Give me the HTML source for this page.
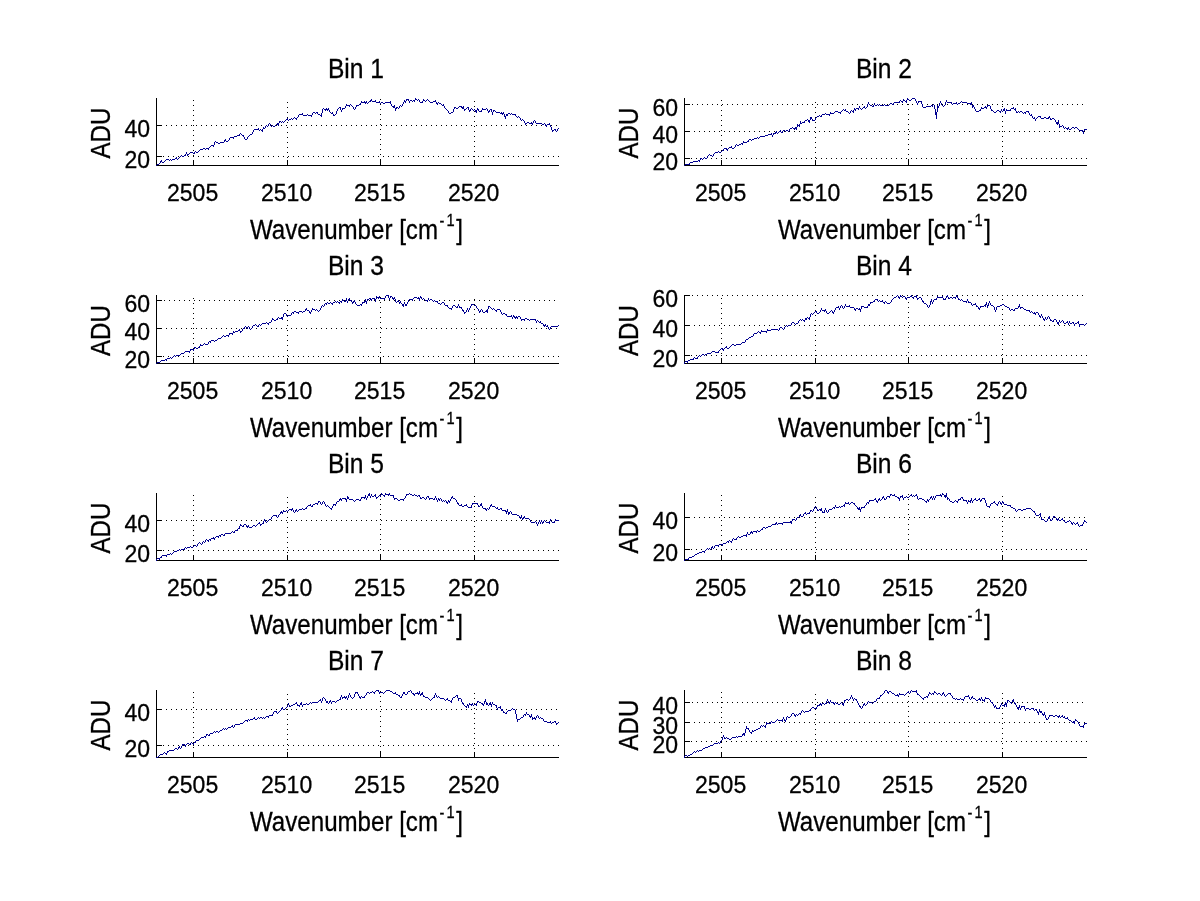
<!DOCTYPE html>
<html><head><meta charset="utf-8"><title>Bins</title>
<style>html,body{margin:0;padding:0;background:#fff}svg{display:block}text{font-family:"Liberation Sans",sans-serif;fill:#000;stroke:#000;stroke-width:0.3px}</style></head><body>
<svg width="1200" height="901" viewBox="0 0 1200 901">
<rect width="1200" height="901" fill="#fff"/>
<g shape-rendering="crispEdges" fill="#000">
<path d="M193 160h1v1h-1zM193 155h1v1h-1zM193 150h1v1h-1zM193 145h1v1h-1zM193 140h1v1h-1zM193 135h1v1h-1zM193 130h1v1h-1zM193 125h1v1h-1zM193 120h1v1h-1zM193 115h1v1h-1zM193 110h1v1h-1zM193 105h1v1h-1zM193 100h1v1h-1zM287 162h1v1h-1zM287 157h1v1h-1zM287 152h1v1h-1zM287 147h1v1h-1zM287 142h1v1h-1zM287 137h1v1h-1zM287 132h1v1h-1zM287 127h1v1h-1zM287 122h1v1h-1zM287 117h1v1h-1zM287 112h1v1h-1zM287 107h1v1h-1zM287 102h1v1h-1zM380 164h1v1h-1zM380 159h1v1h-1zM380 154h1v1h-1zM380 149h1v1h-1zM380 144h1v1h-1zM380 139h1v1h-1zM380 134h1v1h-1zM380 129h1v1h-1zM380 124h1v1h-1zM380 119h1v1h-1zM380 114h1v1h-1zM380 109h1v1h-1zM380 104h1v1h-1zM380 99h1v1h-1zM474 161h1v1h-1zM474 156h1v1h-1zM474 151h1v1h-1zM474 146h1v1h-1zM474 141h1v1h-1zM474 136h1v1h-1zM474 131h1v1h-1zM474 126h1v1h-1zM474 121h1v1h-1zM474 116h1v1h-1zM474 111h1v1h-1zM474 106h1v1h-1zM474 101h1v1h-1zM158 156h1v1h-1zM163 156h1v1h-1zM168 156h1v1h-1zM173 156h1v1h-1zM178 156h1v1h-1zM183 156h1v1h-1zM188 156h1v1h-1zM193 156h1v1h-1zM198 156h1v1h-1zM203 156h1v1h-1zM208 156h1v1h-1zM213 156h1v1h-1zM218 156h1v1h-1zM223 156h1v1h-1zM228 156h1v1h-1zM233 156h1v1h-1zM238 156h1v1h-1zM243 156h1v1h-1zM248 156h1v1h-1zM253 156h1v1h-1zM258 156h1v1h-1zM263 156h1v1h-1zM268 156h1v1h-1zM273 156h1v1h-1zM278 156h1v1h-1zM283 156h1v1h-1zM288 156h1v1h-1zM293 156h1v1h-1zM298 156h1v1h-1zM303 156h1v1h-1zM308 156h1v1h-1zM313 156h1v1h-1zM318 156h1v1h-1zM323 156h1v1h-1zM328 156h1v1h-1zM333 156h1v1h-1zM338 156h1v1h-1zM343 156h1v1h-1zM348 156h1v1h-1zM353 156h1v1h-1zM358 156h1v1h-1zM363 156h1v1h-1zM368 156h1v1h-1zM373 156h1v1h-1zM378 156h1v1h-1zM383 156h1v1h-1zM388 156h1v1h-1zM393 156h1v1h-1zM398 156h1v1h-1zM403 156h1v1h-1zM408 156h1v1h-1zM413 156h1v1h-1zM418 156h1v1h-1zM423 156h1v1h-1zM428 156h1v1h-1zM433 156h1v1h-1zM438 156h1v1h-1zM443 156h1v1h-1zM448 156h1v1h-1zM453 156h1v1h-1zM458 156h1v1h-1zM463 156h1v1h-1zM468 156h1v1h-1zM473 156h1v1h-1zM478 156h1v1h-1zM483 156h1v1h-1zM488 156h1v1h-1zM493 156h1v1h-1zM498 156h1v1h-1zM503 156h1v1h-1zM508 156h1v1h-1zM513 156h1v1h-1zM518 156h1v1h-1zM523 156h1v1h-1zM528 156h1v1h-1zM533 156h1v1h-1zM538 156h1v1h-1zM543 156h1v1h-1zM548 156h1v1h-1zM553 156h1v1h-1zM558 156h1v1h-1zM161 125h1v1h-1zM166 125h1v1h-1zM171 125h1v1h-1zM176 125h1v1h-1zM181 125h1v1h-1zM186 125h1v1h-1zM191 125h1v1h-1zM196 125h1v1h-1zM201 125h1v1h-1zM206 125h1v1h-1zM211 125h1v1h-1zM216 125h1v1h-1zM221 125h1v1h-1zM226 125h1v1h-1zM231 125h1v1h-1zM236 125h1v1h-1zM241 125h1v1h-1zM246 125h1v1h-1zM251 125h1v1h-1zM256 125h1v1h-1zM261 125h1v1h-1zM266 125h1v1h-1zM271 125h1v1h-1zM276 125h1v1h-1zM281 125h1v1h-1zM286 125h1v1h-1zM291 125h1v1h-1zM296 125h1v1h-1zM301 125h1v1h-1zM306 125h1v1h-1zM311 125h1v1h-1zM316 125h1v1h-1zM321 125h1v1h-1zM326 125h1v1h-1zM331 125h1v1h-1zM336 125h1v1h-1zM341 125h1v1h-1zM346 125h1v1h-1zM351 125h1v1h-1zM356 125h1v1h-1zM361 125h1v1h-1zM366 125h1v1h-1zM371 125h1v1h-1zM376 125h1v1h-1zM381 125h1v1h-1zM386 125h1v1h-1zM391 125h1v1h-1zM396 125h1v1h-1zM401 125h1v1h-1zM406 125h1v1h-1zM411 125h1v1h-1zM416 125h1v1h-1zM421 125h1v1h-1zM426 125h1v1h-1zM431 125h1v1h-1zM436 125h1v1h-1zM441 125h1v1h-1zM446 125h1v1h-1zM451 125h1v1h-1zM456 125h1v1h-1zM461 125h1v1h-1zM466 125h1v1h-1zM471 125h1v1h-1zM476 125h1v1h-1zM481 125h1v1h-1zM486 125h1v1h-1zM491 125h1v1h-1zM496 125h1v1h-1zM501 125h1v1h-1zM506 125h1v1h-1zM511 125h1v1h-1zM516 125h1v1h-1zM521 125h1v1h-1zM526 125h1v1h-1zM531 125h1v1h-1zM536 125h1v1h-1zM541 125h1v1h-1zM546 125h1v1h-1zM551 125h1v1h-1zM556 125h1v1h-1z"/>
<rect x="156" y="98" width="1" height="68"/>
<rect x="156" y="165" width="403" height="1"/>
<rect x="193" y="160" width="1" height="5"/>
<rect x="287" y="160" width="1" height="5"/>
<rect x="380" y="160" width="1" height="5"/>
<rect x="474" y="160" width="1" height="5"/>
<rect x="157" y="125" width="5" height="1"/>
<rect x="157" y="156" width="5" height="1"/>
</g>
<path fill="#00008f" shape-rendering="crispEdges" d="M156 165h1v1h-1zM157 164h1v1h-1zM158 164h1v1h-1zM159 163h1v1h-1zM160 161h1v2h-1zM161 160h1v2h-1zM162 162h1v1h-1zM163 162h1v1h-1zM164 161h1v1h-1zM165 160h1v1h-1zM166 159h1v1h-1zM167 159h1v1h-1zM168 159h1v1h-1zM169 160h1v1h-1zM170 159h1v1h-1zM171 160h1v1h-1zM172 159h1v1h-1zM173 159h1v1h-1zM174 159h1v1h-1zM175 158h1v1h-1zM176 157h1v2h-1zM177 159h1v1h-1zM178 158h1v1h-1zM179 157h1v1h-1zM180 156h1v1h-1zM181 155h1v1h-1zM182 156h1v1h-1zM183 156h1v1h-1zM184 155h1v1h-1zM185 154h1v2h-1zM186 152h1v2h-1zM187 154h1v2h-1zM188 154h1v1h-1zM189 153h1v1h-1zM190 152h1v1h-1zM191 152h1v1h-1zM192 152h1v1h-1zM193 153h1v1h-1zM194 152h1v2h-1zM195 151h1v1h-1zM196 152h1v1h-1zM197 152h1v1h-1zM198 151h1v1h-1zM199 150h1v1h-1zM200 149h1v1h-1zM201 149h1v1h-1zM202 149h1v1h-1zM203 148h1v1h-1zM204 148h1v1h-1zM205 149h1v1h-1zM206 148h1v1h-1zM207 148h1v1h-1zM208 148h1v2h-1zM209 147h1v1h-1zM210 146h1v1h-1zM211 145h1v1h-1zM212 145h1v1h-1zM213 145h1v2h-1zM214 142h1v3h-1zM215 141h1v1h-1zM216 142h1v1h-1zM217 142h1v1h-1zM218 143h1v1h-1zM219 143h1v1h-1zM220 142h1v1h-1zM221 142h1v1h-1zM222 142h1v1h-1zM223 142h1v1h-1zM224 140h1v2h-1zM225 139h1v2h-1zM226 141h1v1h-1zM227 141h1v1h-1zM228 140h1v1h-1zM229 138h1v2h-1zM230 137h1v1h-1zM231 137h1v1h-1zM232 137h1v1h-1zM233 137h1v2h-1zM234 136h1v1h-1zM235 136h1v1h-1zM236 136h1v1h-1zM237 135h1v1h-1zM238 135h1v1h-1zM239 134h1v2h-1zM240 133h1v1h-1zM241 134h1v1h-1zM242 135h1v1h-1zM243 135h1v2h-1zM244 137h1v2h-1zM245 139h1v1h-1zM246 139h1v1h-1zM247 137h1v2h-1zM248 136h1v1h-1zM249 135h1v1h-1zM250 134h1v1h-1zM251 134h1v1h-1zM252 132h1v2h-1zM253 130h1v2h-1zM254 129h1v1h-1zM255 129h1v1h-1zM256 129h1v1h-1zM257 129h1v1h-1zM258 128h1v2h-1zM259 130h1v1h-1zM260 129h1v1h-1zM261 130h1v1h-1zM262 129h1v3h-1zM263 127h1v2h-1zM264 128h1v1h-1zM265 126h1v2h-1zM266 125h1v1h-1zM267 126h1v1h-1zM268 124h1v2h-1zM269 123h1v1h-1zM270 124h1v2h-1zM271 126h1v1h-1zM272 125h1v1h-1zM273 126h1v1h-1zM274 126h1v1h-1zM275 125h1v1h-1zM276 124h1v1h-1zM277 123h1v2h-1zM278 123h1v3h-1zM279 121h1v2h-1zM280 121h1v1h-1zM281 122h1v1h-1zM282 121h1v1h-1zM283 122h1v1h-1zM284 121h1v1h-1zM285 120h1v1h-1zM286 119h1v1h-1zM287 118h1v2h-1zM288 120h1v1h-1zM289 119h1v1h-1zM290 119h1v1h-1zM291 118h1v1h-1zM292 119h1v1h-1zM293 118h1v1h-1zM294 117h1v1h-1zM295 118h1v1h-1zM296 118h1v2h-1zM297 117h1v1h-1zM298 115h1v2h-1zM299 114h1v1h-1zM300 114h1v1h-1zM301 114h1v1h-1zM302 113h1v2h-1zM303 115h1v1h-1zM304 115h1v1h-1zM305 115h1v1h-1zM306 115h1v1h-1zM307 114h1v1h-1zM308 115h1v1h-1zM309 115h1v1h-1zM310 115h1v1h-1zM311 115h1v2h-1zM312 113h1v2h-1zM313 112h1v1h-1zM314 112h1v1h-1zM315 113h1v1h-1zM316 112h1v1h-1zM317 112h1v2h-1zM318 114h1v1h-1zM319 114h1v1h-1zM320 115h1v1h-1zM321 113h1v4h-1zM322 109h1v4h-1zM323 108h1v1h-1zM324 109h1v1h-1zM325 109h1v2h-1zM326 108h1v2h-1zM327 109h1v2h-1zM328 108h1v2h-1zM329 110h1v2h-1zM330 112h1v1h-1zM331 113h1v1h-1zM332 112h1v2h-1zM333 114h1v2h-1zM334 115h1v1h-1zM335 114h1v1h-1zM336 111h1v3h-1zM337 109h1v2h-1zM338 108h1v1h-1zM339 107h1v1h-1zM340 107h1v3h-1zM341 110h1v2h-1zM342 108h1v2h-1zM343 108h1v1h-1zM344 108h1v1h-1zM345 106h1v2h-1zM346 104h1v2h-1zM347 105h1v1h-1zM348 105h1v1h-1zM349 105h1v2h-1zM350 104h1v1h-1zM351 105h1v1h-1zM352 106h1v1h-1zM353 107h1v2h-1zM354 109h1v1h-1zM355 107h1v2h-1zM356 105h1v2h-1zM357 105h1v1h-1zM358 105h1v1h-1zM359 104h1v1h-1zM360 103h1v2h-1zM361 101h1v2h-1zM362 102h1v1h-1zM363 102h1v1h-1zM364 101h1v2h-1zM365 102h1v2h-1zM366 101h1v2h-1zM367 103h1v1h-1zM368 102h1v1h-1zM369 101h1v1h-1zM370 100h1v2h-1zM371 99h1v2h-1zM372 101h1v1h-1zM373 101h1v1h-1zM374 101h1v1h-1zM375 100h1v2h-1zM376 102h1v1h-1zM377 102h1v1h-1zM378 102h1v1h-1zM379 101h1v2h-1zM380 103h1v1h-1zM381 102h1v1h-1zM382 102h1v1h-1zM383 103h1v1h-1zM384 103h1v1h-1zM385 102h1v1h-1zM386 102h1v1h-1zM387 102h1v1h-1zM388 102h1v1h-1zM389 102h1v1h-1zM390 101h1v3h-1zM391 104h1v2h-1zM392 106h1v1h-1zM393 106h1v2h-1zM394 105h1v3h-1zM395 108h1v3h-1zM396 107h1v2h-1zM397 107h1v1h-1zM398 108h1v1h-1zM399 106h1v2h-1zM400 105h1v1h-1zM401 106h1v1h-1zM402 104h1v2h-1zM403 102h1v2h-1zM404 100h1v2h-1zM405 101h1v2h-1zM406 99h1v2h-1zM407 99h1v1h-1zM408 99h1v2h-1zM409 101h1v2h-1zM410 100h1v1h-1zM411 100h1v1h-1zM412 101h1v1h-1zM413 100h1v1h-1zM414 100h1v2h-1zM415 98h1v2h-1zM416 99h1v1h-1zM417 100h1v1h-1zM418 99h1v1h-1zM419 100h1v2h-1zM420 102h1v1h-1zM421 102h1v1h-1zM422 101h1v2h-1zM423 99h1v2h-1zM424 100h1v1h-1zM425 101h1v1h-1zM426 100h1v1h-1zM427 99h1v1h-1zM428 100h1v1h-1zM429 101h1v1h-1zM430 102h1v1h-1zM431 102h1v1h-1zM432 102h1v1h-1zM433 101h1v1h-1zM434 101h1v1h-1zM435 100h1v2h-1zM436 102h1v2h-1zM437 103h1v2h-1zM438 102h1v1h-1zM439 103h1v1h-1zM440 103h1v1h-1zM441 104h1v1h-1zM442 105h1v1h-1zM443 104h1v2h-1zM444 106h1v2h-1zM445 108h1v1h-1zM446 109h1v1h-1zM447 110h1v1h-1zM448 111h1v2h-1zM449 113h1v1h-1zM450 113h1v1h-1zM451 112h1v1h-1zM452 112h1v1h-1zM453 109h1v3h-1zM454 107h1v2h-1zM455 107h1v1h-1zM456 108h1v1h-1zM457 108h1v1h-1zM458 107h1v1h-1zM459 106h1v1h-1zM460 106h1v1h-1zM461 106h1v2h-1zM462 107h1v2h-1zM463 106h1v3h-1zM464 109h1v2h-1zM465 109h1v1h-1zM466 108h1v1h-1zM467 107h1v1h-1zM468 107h1v3h-1zM469 110h1v2h-1zM470 109h1v2h-1zM471 108h1v1h-1zM472 109h1v1h-1zM473 110h1v1h-1zM474 109h1v1h-1zM475 110h1v2h-1zM476 110h1v3h-1zM477 108h1v2h-1zM478 109h1v2h-1zM479 111h1v1h-1zM480 111h1v1h-1zM481 110h1v2h-1zM482 108h1v2h-1zM483 109h1v1h-1zM484 109h1v1h-1zM485 109h1v1h-1zM486 108h1v1h-1zM487 109h1v2h-1zM488 111h1v2h-1zM489 110h1v2h-1zM490 109h1v1h-1zM491 109h1v3h-1zM492 112h1v3h-1zM493 110h1v2h-1zM494 110h1v1h-1zM495 111h1v1h-1zM496 112h1v1h-1zM497 112h1v1h-1zM498 112h1v1h-1zM499 112h1v1h-1zM500 113h1v1h-1zM501 112h1v2h-1zM502 113h1v2h-1zM503 112h1v2h-1zM504 114h1v3h-1zM505 116h1v3h-1zM506 114h1v2h-1zM507 114h1v2h-1zM508 113h1v1h-1zM509 113h1v1h-1zM510 114h1v1h-1zM511 113h1v1h-1zM512 114h1v1h-1zM513 114h1v1h-1zM514 114h1v1h-1zM515 114h1v2h-1zM516 116h1v1h-1zM517 117h1v1h-1zM518 116h1v1h-1zM519 117h1v1h-1zM520 118h1v2h-1zM521 120h1v1h-1zM522 119h1v1h-1zM523 120h1v1h-1zM524 121h1v2h-1zM525 123h1v2h-1zM526 123h1v1h-1zM527 122h1v1h-1zM528 122h1v1h-1zM529 123h1v1h-1zM530 123h1v1h-1zM531 122h1v2h-1zM532 123h1v2h-1zM533 121h1v2h-1zM534 120h1v1h-1zM535 121h1v2h-1zM536 123h1v1h-1zM537 123h1v1h-1zM538 123h1v1h-1zM539 123h1v1h-1zM540 123h1v1h-1zM541 123h1v1h-1zM542 124h1v1h-1zM543 124h1v1h-1zM544 123h1v1h-1zM545 124h1v2h-1zM546 125h1v2h-1zM547 124h1v1h-1zM548 124h1v1h-1zM549 123h1v2h-1zM550 125h1v2h-1zM551 127h1v3h-1zM552 130h1v2h-1zM553 130h1v1h-1zM554 129h1v1h-1zM555 129h1v2h-1zM556 131h1v1h-1zM557 129h1v2h-1zM558 128h1v1h-1z"/>
<text transform="translate(192.60,201.10) scale(0.94,1)" font-size="24.5" text-anchor="middle">2505</text>
<text transform="translate(286.60,201.10) scale(0.94,1)" font-size="24.5" text-anchor="middle">2510</text>
<text transform="translate(379.60,201.10) scale(0.94,1)" font-size="24.5" text-anchor="middle">2515</text>
<text transform="translate(473.60,201.10) scale(0.94,1)" font-size="24.5" text-anchor="middle">2520</text>
<text transform="translate(150.00,136.90) scale(0.94,1)" font-size="24.5" text-anchor="end">40</text>
<text transform="translate(150.00,167.90) scale(0.94,1)" font-size="24.5" text-anchor="end">20</text>
<text transform="translate(356.00,77.70) scale(0.905,1)" font-size="27.2" text-anchor="middle">Bin 1</text>
<text transform="translate(250.00,238.80) scale(0.887,1)" font-size="27.2" text-anchor="start">Wavenumber [cm<tspan x="213.75" dy="-12.6" font-size="16.5">-</tspan><tspan x="221.53" dy="-0.3" font-size="16.5">1</tspan><tspan x="232.47" dy="12.9">]</tspan></text>
<text transform="translate(110.00,133.00) rotate(-90) scale(0.887,1)" font-size="27.2" text-anchor="middle">ADU</text>
<g shape-rendering="crispEdges" fill="#000">
<path d="M721 160h1v1h-1zM721 155h1v1h-1zM721 150h1v1h-1zM721 145h1v1h-1zM721 140h1v1h-1zM721 135h1v1h-1zM721 130h1v1h-1zM721 125h1v1h-1zM721 120h1v1h-1zM721 115h1v1h-1zM721 110h1v1h-1zM721 105h1v1h-1zM721 100h1v1h-1zM815 162h1v1h-1zM815 157h1v1h-1zM815 152h1v1h-1zM815 147h1v1h-1zM815 142h1v1h-1zM815 137h1v1h-1zM815 132h1v1h-1zM815 127h1v1h-1zM815 122h1v1h-1zM815 117h1v1h-1zM815 112h1v1h-1zM815 107h1v1h-1zM815 102h1v1h-1zM908 164h1v1h-1zM908 159h1v1h-1zM908 154h1v1h-1zM908 149h1v1h-1zM908 144h1v1h-1zM908 139h1v1h-1zM908 134h1v1h-1zM908 129h1v1h-1zM908 124h1v1h-1zM908 119h1v1h-1zM908 114h1v1h-1zM908 109h1v1h-1zM908 104h1v1h-1zM908 99h1v1h-1zM1002 161h1v1h-1zM1002 156h1v1h-1zM1002 151h1v1h-1zM1002 146h1v1h-1zM1002 141h1v1h-1zM1002 136h1v1h-1zM1002 131h1v1h-1zM1002 126h1v1h-1zM1002 121h1v1h-1zM1002 116h1v1h-1zM1002 111h1v1h-1zM1002 106h1v1h-1zM1002 101h1v1h-1zM686 158h1v1h-1zM691 158h1v1h-1zM696 158h1v1h-1zM701 158h1v1h-1zM706 158h1v1h-1zM711 158h1v1h-1zM716 158h1v1h-1zM721 158h1v1h-1zM726 158h1v1h-1zM731 158h1v1h-1zM736 158h1v1h-1zM741 158h1v1h-1zM746 158h1v1h-1zM751 158h1v1h-1zM756 158h1v1h-1zM761 158h1v1h-1zM766 158h1v1h-1zM771 158h1v1h-1zM776 158h1v1h-1zM781 158h1v1h-1zM786 158h1v1h-1zM791 158h1v1h-1zM796 158h1v1h-1zM801 158h1v1h-1zM806 158h1v1h-1zM811 158h1v1h-1zM816 158h1v1h-1zM821 158h1v1h-1zM826 158h1v1h-1zM831 158h1v1h-1zM836 158h1v1h-1zM841 158h1v1h-1zM846 158h1v1h-1zM851 158h1v1h-1zM856 158h1v1h-1zM861 158h1v1h-1zM866 158h1v1h-1zM871 158h1v1h-1zM876 158h1v1h-1zM881 158h1v1h-1zM886 158h1v1h-1zM891 158h1v1h-1zM896 158h1v1h-1zM901 158h1v1h-1zM906 158h1v1h-1zM911 158h1v1h-1zM916 158h1v1h-1zM921 158h1v1h-1zM926 158h1v1h-1zM931 158h1v1h-1zM936 158h1v1h-1zM941 158h1v1h-1zM946 158h1v1h-1zM951 158h1v1h-1zM956 158h1v1h-1zM961 158h1v1h-1zM966 158h1v1h-1zM971 158h1v1h-1zM976 158h1v1h-1zM981 158h1v1h-1zM986 158h1v1h-1zM991 158h1v1h-1zM996 158h1v1h-1zM1001 158h1v1h-1zM1006 158h1v1h-1zM1011 158h1v1h-1zM1016 158h1v1h-1zM1021 158h1v1h-1zM1026 158h1v1h-1zM1031 158h1v1h-1zM1036 158h1v1h-1zM1041 158h1v1h-1zM1046 158h1v1h-1zM1051 158h1v1h-1zM1056 158h1v1h-1zM1061 158h1v1h-1zM1066 158h1v1h-1zM1071 158h1v1h-1zM1076 158h1v1h-1zM1081 158h1v1h-1zM1086 158h1v1h-1zM689 131h1v1h-1zM694 131h1v1h-1zM699 131h1v1h-1zM704 131h1v1h-1zM709 131h1v1h-1zM714 131h1v1h-1zM719 131h1v1h-1zM724 131h1v1h-1zM729 131h1v1h-1zM734 131h1v1h-1zM739 131h1v1h-1zM744 131h1v1h-1zM749 131h1v1h-1zM754 131h1v1h-1zM759 131h1v1h-1zM764 131h1v1h-1zM769 131h1v1h-1zM774 131h1v1h-1zM779 131h1v1h-1zM784 131h1v1h-1zM789 131h1v1h-1zM794 131h1v1h-1zM799 131h1v1h-1zM804 131h1v1h-1zM809 131h1v1h-1zM814 131h1v1h-1zM819 131h1v1h-1zM824 131h1v1h-1zM829 131h1v1h-1zM834 131h1v1h-1zM839 131h1v1h-1zM844 131h1v1h-1zM849 131h1v1h-1zM854 131h1v1h-1zM859 131h1v1h-1zM864 131h1v1h-1zM869 131h1v1h-1zM874 131h1v1h-1zM879 131h1v1h-1zM884 131h1v1h-1zM889 131h1v1h-1zM894 131h1v1h-1zM899 131h1v1h-1zM904 131h1v1h-1zM909 131h1v1h-1zM914 131h1v1h-1zM919 131h1v1h-1zM924 131h1v1h-1zM929 131h1v1h-1zM934 131h1v1h-1zM939 131h1v1h-1zM944 131h1v1h-1zM949 131h1v1h-1zM954 131h1v1h-1zM959 131h1v1h-1zM964 131h1v1h-1zM969 131h1v1h-1zM974 131h1v1h-1zM979 131h1v1h-1zM984 131h1v1h-1zM989 131h1v1h-1zM994 131h1v1h-1zM999 131h1v1h-1zM1004 131h1v1h-1zM1009 131h1v1h-1zM1014 131h1v1h-1zM1019 131h1v1h-1zM1024 131h1v1h-1zM1029 131h1v1h-1zM1034 131h1v1h-1zM1039 131h1v1h-1zM1044 131h1v1h-1zM1049 131h1v1h-1zM1054 131h1v1h-1zM1059 131h1v1h-1zM1064 131h1v1h-1zM1069 131h1v1h-1zM1074 131h1v1h-1zM1079 131h1v1h-1zM1084 131h1v1h-1zM687 104h1v1h-1zM692 104h1v1h-1zM697 104h1v1h-1zM702 104h1v1h-1zM707 104h1v1h-1zM712 104h1v1h-1zM717 104h1v1h-1zM722 104h1v1h-1zM727 104h1v1h-1zM732 104h1v1h-1zM737 104h1v1h-1zM742 104h1v1h-1zM747 104h1v1h-1zM752 104h1v1h-1zM757 104h1v1h-1zM762 104h1v1h-1zM767 104h1v1h-1zM772 104h1v1h-1zM777 104h1v1h-1zM782 104h1v1h-1zM787 104h1v1h-1zM792 104h1v1h-1zM797 104h1v1h-1zM802 104h1v1h-1zM807 104h1v1h-1zM812 104h1v1h-1zM817 104h1v1h-1zM822 104h1v1h-1zM827 104h1v1h-1zM832 104h1v1h-1zM837 104h1v1h-1zM842 104h1v1h-1zM847 104h1v1h-1zM852 104h1v1h-1zM857 104h1v1h-1zM862 104h1v1h-1zM867 104h1v1h-1zM872 104h1v1h-1zM877 104h1v1h-1zM882 104h1v1h-1zM887 104h1v1h-1zM892 104h1v1h-1zM897 104h1v1h-1zM902 104h1v1h-1zM907 104h1v1h-1zM912 104h1v1h-1zM917 104h1v1h-1zM922 104h1v1h-1zM927 104h1v1h-1zM932 104h1v1h-1zM937 104h1v1h-1zM942 104h1v1h-1zM947 104h1v1h-1zM952 104h1v1h-1zM957 104h1v1h-1zM962 104h1v1h-1zM967 104h1v1h-1zM972 104h1v1h-1zM977 104h1v1h-1zM982 104h1v1h-1zM987 104h1v1h-1zM992 104h1v1h-1zM997 104h1v1h-1zM1002 104h1v1h-1zM1007 104h1v1h-1zM1012 104h1v1h-1zM1017 104h1v1h-1zM1022 104h1v1h-1zM1027 104h1v1h-1zM1032 104h1v1h-1zM1037 104h1v1h-1zM1042 104h1v1h-1zM1047 104h1v1h-1zM1052 104h1v1h-1zM1057 104h1v1h-1zM1062 104h1v1h-1zM1067 104h1v1h-1zM1072 104h1v1h-1zM1077 104h1v1h-1zM1082 104h1v1h-1z"/>
<rect x="684" y="98" width="1" height="68"/>
<rect x="684" y="165" width="403" height="1"/>
<rect x="721" y="160" width="1" height="5"/>
<rect x="815" y="160" width="1" height="5"/>
<rect x="908" y="160" width="1" height="5"/>
<rect x="1002" y="160" width="1" height="5"/>
<rect x="685" y="104" width="5" height="1"/>
<rect x="685" y="131" width="5" height="1"/>
<rect x="685" y="158" width="5" height="1"/>
</g>
<path fill="#00008f" shape-rendering="crispEdges" d="M684 165h1v1h-1zM685 164h1v1h-1zM686 164h1v1h-1zM687 164h1v1h-1zM688 164h1v1h-1zM689 163h1v2h-1zM690 162h1v1h-1zM691 162h1v1h-1zM692 162h1v1h-1zM693 161h1v1h-1zM694 161h1v1h-1zM695 161h1v1h-1zM696 161h1v1h-1zM697 161h1v1h-1zM698 160h1v1h-1zM699 160h1v2h-1zM700 158h1v2h-1zM701 158h1v1h-1zM702 159h1v1h-1zM703 158h1v1h-1zM704 157h1v1h-1zM705 158h1v1h-1zM706 158h1v1h-1zM707 156h1v2h-1zM708 155h1v1h-1zM709 154h1v1h-1zM710 155h1v1h-1zM711 155h1v1h-1zM712 156h1v1h-1zM713 154h1v2h-1zM714 153h1v1h-1zM715 152h1v1h-1zM716 152h1v1h-1zM717 152h1v1h-1zM718 151h1v1h-1zM719 152h1v1h-1zM720 152h1v1h-1zM721 151h1v1h-1zM722 150h1v1h-1zM723 149h1v2h-1zM724 148h1v1h-1zM725 148h1v1h-1zM726 148h1v2h-1zM727 149h1v2h-1zM728 148h1v1h-1zM729 147h1v1h-1zM730 147h1v1h-1zM731 146h1v2h-1zM732 148h1v1h-1zM733 148h1v1h-1zM734 147h1v1h-1zM735 145h1v2h-1zM736 144h1v1h-1zM737 145h1v1h-1zM738 145h1v1h-1zM739 144h1v1h-1zM740 144h1v1h-1zM741 143h1v1h-1zM742 143h1v2h-1zM743 141h1v2h-1zM744 142h1v1h-1zM745 142h1v1h-1zM746 142h1v1h-1zM747 141h1v1h-1zM748 140h1v2h-1zM749 139h1v1h-1zM750 139h1v1h-1zM751 140h1v1h-1zM752 139h1v1h-1zM753 139h1v1h-1zM754 138h1v1h-1zM755 138h1v1h-1zM756 138h1v1h-1zM757 137h1v1h-1zM758 138h1v1h-1zM759 137h1v1h-1zM760 136h1v1h-1zM761 136h1v1h-1zM762 136h1v1h-1zM763 136h1v1h-1zM764 136h1v1h-1zM765 135h1v1h-1zM766 135h1v1h-1zM767 135h1v1h-1zM768 134h1v1h-1zM769 134h1v1h-1zM770 134h1v1h-1zM771 133h1v2h-1zM772 135h1v2h-1zM773 133h1v2h-1zM774 133h1v1h-1zM775 132h1v2h-1zM776 131h1v2h-1zM777 133h1v1h-1zM778 132h1v1h-1zM779 131h1v1h-1zM780 130h1v2h-1zM781 132h1v1h-1zM782 131h1v2h-1zM783 130h1v1h-1zM784 130h1v1h-1zM785 131h1v1h-1zM786 130h1v1h-1zM787 130h1v1h-1zM788 131h1v1h-1zM789 129h1v2h-1zM790 128h1v1h-1zM791 128h1v1h-1zM792 127h1v1h-1zM793 128h1v1h-1zM794 128h1v2h-1zM795 127h1v2h-1zM796 127h1v3h-1zM797 124h1v3h-1zM798 125h1v1h-1zM799 124h1v3h-1zM800 121h1v3h-1zM801 123h1v1h-1zM802 122h1v1h-1zM803 122h1v1h-1zM804 121h1v2h-1zM805 120h1v1h-1zM806 120h1v1h-1zM807 119h1v1h-1zM808 120h1v2h-1zM809 120h1v3h-1zM810 117h1v3h-1zM811 117h1v2h-1zM812 119h1v2h-1zM813 120h1v1h-1zM814 120h1v1h-1zM815 118h1v2h-1zM816 117h1v1h-1zM817 116h1v1h-1zM818 116h1v1h-1zM819 115h1v1h-1zM820 116h1v1h-1zM821 115h1v2h-1zM822 114h1v1h-1zM823 114h1v1h-1zM824 114h1v1h-1zM825 113h1v1h-1zM826 114h1v1h-1zM827 114h1v1h-1zM828 114h1v1h-1zM829 114h1v2h-1zM830 112h1v2h-1zM831 113h1v1h-1zM832 113h1v1h-1zM833 113h1v1h-1zM834 112h1v1h-1zM835 111h1v1h-1zM836 111h1v1h-1zM837 111h1v1h-1zM838 112h1v1h-1zM839 112h1v1h-1zM840 112h1v2h-1zM841 111h1v1h-1zM842 110h1v1h-1zM843 109h1v1h-1zM844 110h1v1h-1zM845 109h1v2h-1zM846 111h1v1h-1zM847 111h1v1h-1zM848 112h1v1h-1zM849 113h1v1h-1zM850 111h1v2h-1zM851 110h1v1h-1zM852 111h1v1h-1zM853 110h1v3h-1zM854 108h1v2h-1zM855 109h1v2h-1zM856 108h1v1h-1zM857 108h1v1h-1zM858 108h1v2h-1zM859 106h1v2h-1zM860 108h1v1h-1zM861 109h1v1h-1zM862 108h1v1h-1zM863 107h1v1h-1zM864 106h1v2h-1zM865 108h1v1h-1zM866 107h1v1h-1zM867 104h1v3h-1zM868 102h1v2h-1zM869 104h1v1h-1zM870 105h1v1h-1zM871 105h1v1h-1zM872 106h1v1h-1zM873 105h1v2h-1zM874 103h1v2h-1zM875 105h1v1h-1zM876 105h1v1h-1zM877 104h1v1h-1zM878 105h1v1h-1zM879 104h1v1h-1zM880 105h1v1h-1zM881 105h1v1h-1zM882 105h1v1h-1zM883 105h1v1h-1zM884 104h1v1h-1zM885 105h1v1h-1zM886 105h1v1h-1zM887 105h1v1h-1zM888 105h1v1h-1zM889 104h1v1h-1zM890 103h1v1h-1zM891 103h1v1h-1zM892 104h1v1h-1zM893 103h1v2h-1zM894 102h1v1h-1zM895 102h1v1h-1zM896 102h1v1h-1zM897 102h1v1h-1zM898 102h1v1h-1zM899 101h1v2h-1zM900 100h1v1h-1zM901 101h1v1h-1zM902 101h1v2h-1zM903 99h1v2h-1zM904 100h1v1h-1zM905 101h1v1h-1zM906 100h1v3h-1zM907 98h1v2h-1zM908 99h1v1h-1zM909 100h1v1h-1zM910 100h1v1h-1zM911 99h1v1h-1zM912 98h1v1h-1zM913 98h1v1h-1zM914 98h1v1h-1zM915 99h1v2h-1zM916 101h1v2h-1zM917 103h1v2h-1zM918 101h1v2h-1zM919 101h1v1h-1zM920 101h1v1h-1zM921 101h1v3h-1zM922 104h1v3h-1zM923 107h1v1h-1zM924 107h1v1h-1zM925 107h1v1h-1zM926 106h1v1h-1zM927 106h1v1h-1zM928 106h1v1h-1zM929 106h1v1h-1zM930 106h1v1h-1zM931 105h1v1h-1zM932 105h1v2h-1zM933 104h1v1h-1zM934 105h1v4h-1zM935 109h1v6h-1zM936 112h1v7h-1zM937 105h1v7h-1zM938 106h1v2h-1zM939 103h1v3h-1zM940 101h1v2h-1zM941 103h1v2h-1zM942 105h1v1h-1zM943 106h1v1h-1zM944 105h1v1h-1zM945 102h1v3h-1zM946 100h1v2h-1zM947 102h1v1h-1zM948 102h1v1h-1zM949 102h1v1h-1zM950 102h1v1h-1zM951 102h1v2h-1zM952 104h1v1h-1zM953 103h1v1h-1zM954 103h1v1h-1zM955 103h1v1h-1zM956 102h1v2h-1zM957 104h1v1h-1zM958 103h1v1h-1zM959 103h1v1h-1zM960 102h1v1h-1zM961 101h1v1h-1zM962 102h1v1h-1zM963 102h1v1h-1zM964 102h1v1h-1zM965 102h1v1h-1zM966 102h1v1h-1zM967 103h1v1h-1zM968 103h1v1h-1zM969 103h1v1h-1zM970 103h1v2h-1zM971 102h1v3h-1zM972 105h1v3h-1zM973 105h1v2h-1zM974 107h1v2h-1zM975 109h1v2h-1zM976 111h1v1h-1zM977 111h1v1h-1zM978 111h1v1h-1zM979 110h1v1h-1zM980 109h1v2h-1zM981 107h1v2h-1zM982 108h1v1h-1zM983 108h1v1h-1zM984 107h1v1h-1zM985 106h1v2h-1zM986 107h1v2h-1zM987 105h1v2h-1zM988 105h1v1h-1zM989 105h1v1h-1zM990 106h1v3h-1zM991 109h1v2h-1zM992 110h1v1h-1zM993 111h1v1h-1zM994 112h1v1h-1zM995 112h1v1h-1zM996 111h1v1h-1zM997 110h1v1h-1zM998 110h1v1h-1zM999 111h1v1h-1zM1000 111h1v2h-1zM1001 109h1v2h-1zM1002 111h1v1h-1zM1003 109h1v2h-1zM1004 108h1v3h-1zM1005 111h1v3h-1zM1006 109h1v2h-1zM1007 110h1v1h-1zM1008 110h1v1h-1zM1009 110h1v1h-1zM1010 109h1v2h-1zM1011 108h1v1h-1zM1012 108h1v1h-1zM1013 107h1v2h-1zM1014 109h1v1h-1zM1015 108h1v3h-1zM1016 111h1v2h-1zM1017 112h1v1h-1zM1018 111h1v1h-1zM1019 112h1v1h-1zM1020 111h1v1h-1zM1021 111h1v1h-1zM1022 112h1v1h-1zM1023 113h1v1h-1zM1024 112h1v1h-1zM1025 112h1v2h-1zM1026 111h1v1h-1zM1027 111h1v1h-1zM1028 111h1v2h-1zM1029 113h1v2h-1zM1030 115h1v1h-1zM1031 114h1v2h-1zM1032 116h1v2h-1zM1033 118h1v1h-1zM1034 117h1v2h-1zM1035 119h1v2h-1zM1036 118h1v1h-1zM1037 117h1v1h-1zM1038 116h1v1h-1zM1039 116h1v1h-1zM1040 116h1v2h-1zM1041 118h1v1h-1zM1042 118h1v1h-1zM1043 118h1v1h-1zM1044 117h1v1h-1zM1045 117h1v1h-1zM1046 118h1v1h-1zM1047 118h1v1h-1zM1048 117h1v2h-1zM1049 116h1v2h-1zM1050 118h1v2h-1zM1051 119h1v1h-1zM1052 118h1v1h-1zM1053 118h1v1h-1zM1054 119h1v1h-1zM1055 120h1v2h-1zM1056 122h1v2h-1zM1057 122h1v3h-1zM1058 120h1v4h-1zM1059 124h1v4h-1zM1060 126h1v1h-1zM1061 126h1v1h-1zM1062 125h1v1h-1zM1063 126h1v2h-1zM1064 128h1v1h-1zM1065 127h1v1h-1zM1066 128h1v1h-1zM1067 128h1v2h-1zM1068 127h1v2h-1zM1069 129h1v1h-1zM1070 129h1v1h-1zM1071 128h1v1h-1zM1072 127h1v1h-1zM1073 127h1v1h-1zM1074 128h1v1h-1zM1075 127h1v1h-1zM1076 127h1v1h-1zM1077 128h1v1h-1zM1078 129h1v1h-1zM1079 130h1v1h-1zM1080 130h1v1h-1zM1081 130h1v1h-1zM1082 130h1v2h-1zM1083 131h1v3h-1zM1084 129h1v2h-1zM1085 129h1v1h-1zM1086 129h1v1h-1z"/>
<text transform="translate(720.60,201.10) scale(0.94,1)" font-size="24.5" text-anchor="middle">2505</text>
<text transform="translate(814.60,201.10) scale(0.94,1)" font-size="24.5" text-anchor="middle">2510</text>
<text transform="translate(907.60,201.10) scale(0.94,1)" font-size="24.5" text-anchor="middle">2515</text>
<text transform="translate(1001.60,201.10) scale(0.94,1)" font-size="24.5" text-anchor="middle">2520</text>
<text transform="translate(678.00,115.90) scale(0.94,1)" font-size="24.5" text-anchor="end">60</text>
<text transform="translate(678.00,142.90) scale(0.94,1)" font-size="24.5" text-anchor="end">40</text>
<text transform="translate(678.00,169.90) scale(0.94,1)" font-size="24.5" text-anchor="end">20</text>
<text transform="translate(884.00,77.70) scale(0.905,1)" font-size="27.2" text-anchor="middle">Bin 2</text>
<text transform="translate(778.00,238.80) scale(0.887,1)" font-size="27.2" text-anchor="start">Wavenumber [cm<tspan x="213.75" dy="-12.6" font-size="16.5">-</tspan><tspan x="221.53" dy="-0.3" font-size="16.5">1</tspan><tspan x="232.47" dy="12.9">]</tspan></text>
<text transform="translate(638.00,133.00) rotate(-90) scale(0.887,1)" font-size="27.2" text-anchor="middle">ADU</text>
<g shape-rendering="crispEdges" fill="#000">
<path d="M193 358h1v1h-1zM193 353h1v1h-1zM193 348h1v1h-1zM193 343h1v1h-1zM193 338h1v1h-1zM193 333h1v1h-1zM193 328h1v1h-1zM193 323h1v1h-1zM193 318h1v1h-1zM193 313h1v1h-1zM193 308h1v1h-1zM193 303h1v1h-1zM193 298h1v1h-1zM287 360h1v1h-1zM287 355h1v1h-1zM287 350h1v1h-1zM287 345h1v1h-1zM287 340h1v1h-1zM287 335h1v1h-1zM287 330h1v1h-1zM287 325h1v1h-1zM287 320h1v1h-1zM287 315h1v1h-1zM287 310h1v1h-1zM287 305h1v1h-1zM287 300h1v1h-1zM380 362h1v1h-1zM380 357h1v1h-1zM380 352h1v1h-1zM380 347h1v1h-1zM380 342h1v1h-1zM380 337h1v1h-1zM380 332h1v1h-1zM380 327h1v1h-1zM380 322h1v1h-1zM380 317h1v1h-1zM380 312h1v1h-1zM380 307h1v1h-1zM380 302h1v1h-1zM380 297h1v1h-1zM474 359h1v1h-1zM474 354h1v1h-1zM474 349h1v1h-1zM474 344h1v1h-1zM474 339h1v1h-1zM474 334h1v1h-1zM474 329h1v1h-1zM474 324h1v1h-1zM474 319h1v1h-1zM474 314h1v1h-1zM474 309h1v1h-1zM474 304h1v1h-1zM474 299h1v1h-1zM158 356h1v1h-1zM163 356h1v1h-1zM168 356h1v1h-1zM173 356h1v1h-1zM178 356h1v1h-1zM183 356h1v1h-1zM188 356h1v1h-1zM193 356h1v1h-1zM198 356h1v1h-1zM203 356h1v1h-1zM208 356h1v1h-1zM213 356h1v1h-1zM218 356h1v1h-1zM223 356h1v1h-1zM228 356h1v1h-1zM233 356h1v1h-1zM238 356h1v1h-1zM243 356h1v1h-1zM248 356h1v1h-1zM253 356h1v1h-1zM258 356h1v1h-1zM263 356h1v1h-1zM268 356h1v1h-1zM273 356h1v1h-1zM278 356h1v1h-1zM283 356h1v1h-1zM288 356h1v1h-1zM293 356h1v1h-1zM298 356h1v1h-1zM303 356h1v1h-1zM308 356h1v1h-1zM313 356h1v1h-1zM318 356h1v1h-1zM323 356h1v1h-1zM328 356h1v1h-1zM333 356h1v1h-1zM338 356h1v1h-1zM343 356h1v1h-1zM348 356h1v1h-1zM353 356h1v1h-1zM358 356h1v1h-1zM363 356h1v1h-1zM368 356h1v1h-1zM373 356h1v1h-1zM378 356h1v1h-1zM383 356h1v1h-1zM388 356h1v1h-1zM393 356h1v1h-1zM398 356h1v1h-1zM403 356h1v1h-1zM408 356h1v1h-1zM413 356h1v1h-1zM418 356h1v1h-1zM423 356h1v1h-1zM428 356h1v1h-1zM433 356h1v1h-1zM438 356h1v1h-1zM443 356h1v1h-1zM448 356h1v1h-1zM453 356h1v1h-1zM458 356h1v1h-1zM463 356h1v1h-1zM468 356h1v1h-1zM473 356h1v1h-1zM478 356h1v1h-1zM483 356h1v1h-1zM488 356h1v1h-1zM493 356h1v1h-1zM498 356h1v1h-1zM503 356h1v1h-1zM508 356h1v1h-1zM513 356h1v1h-1zM518 356h1v1h-1zM523 356h1v1h-1zM528 356h1v1h-1zM533 356h1v1h-1zM538 356h1v1h-1zM543 356h1v1h-1zM548 356h1v1h-1zM553 356h1v1h-1zM558 356h1v1h-1zM161 328h1v1h-1zM166 328h1v1h-1zM171 328h1v1h-1zM176 328h1v1h-1zM181 328h1v1h-1zM186 328h1v1h-1zM191 328h1v1h-1zM196 328h1v1h-1zM201 328h1v1h-1zM206 328h1v1h-1zM211 328h1v1h-1zM216 328h1v1h-1zM221 328h1v1h-1zM226 328h1v1h-1zM231 328h1v1h-1zM236 328h1v1h-1zM241 328h1v1h-1zM246 328h1v1h-1zM251 328h1v1h-1zM256 328h1v1h-1zM261 328h1v1h-1zM266 328h1v1h-1zM271 328h1v1h-1zM276 328h1v1h-1zM281 328h1v1h-1zM286 328h1v1h-1zM291 328h1v1h-1zM296 328h1v1h-1zM301 328h1v1h-1zM306 328h1v1h-1zM311 328h1v1h-1zM316 328h1v1h-1zM321 328h1v1h-1zM326 328h1v1h-1zM331 328h1v1h-1zM336 328h1v1h-1zM341 328h1v1h-1zM346 328h1v1h-1zM351 328h1v1h-1zM356 328h1v1h-1zM361 328h1v1h-1zM366 328h1v1h-1zM371 328h1v1h-1zM376 328h1v1h-1zM381 328h1v1h-1zM386 328h1v1h-1zM391 328h1v1h-1zM396 328h1v1h-1zM401 328h1v1h-1zM406 328h1v1h-1zM411 328h1v1h-1zM416 328h1v1h-1zM421 328h1v1h-1zM426 328h1v1h-1zM431 328h1v1h-1zM436 328h1v1h-1zM441 328h1v1h-1zM446 328h1v1h-1zM451 328h1v1h-1zM456 328h1v1h-1zM461 328h1v1h-1zM466 328h1v1h-1zM471 328h1v1h-1zM476 328h1v1h-1zM481 328h1v1h-1zM486 328h1v1h-1zM491 328h1v1h-1zM496 328h1v1h-1zM501 328h1v1h-1zM506 328h1v1h-1zM511 328h1v1h-1zM516 328h1v1h-1zM521 328h1v1h-1zM526 328h1v1h-1zM531 328h1v1h-1zM536 328h1v1h-1zM541 328h1v1h-1zM546 328h1v1h-1zM551 328h1v1h-1zM556 328h1v1h-1zM159 300h1v1h-1zM164 300h1v1h-1zM169 300h1v1h-1zM174 300h1v1h-1zM179 300h1v1h-1zM184 300h1v1h-1zM189 300h1v1h-1zM194 300h1v1h-1zM199 300h1v1h-1zM204 300h1v1h-1zM209 300h1v1h-1zM214 300h1v1h-1zM219 300h1v1h-1zM224 300h1v1h-1zM229 300h1v1h-1zM234 300h1v1h-1zM239 300h1v1h-1zM244 300h1v1h-1zM249 300h1v1h-1zM254 300h1v1h-1zM259 300h1v1h-1zM264 300h1v1h-1zM269 300h1v1h-1zM274 300h1v1h-1zM279 300h1v1h-1zM284 300h1v1h-1zM289 300h1v1h-1zM294 300h1v1h-1zM299 300h1v1h-1zM304 300h1v1h-1zM309 300h1v1h-1zM314 300h1v1h-1zM319 300h1v1h-1zM324 300h1v1h-1zM329 300h1v1h-1zM334 300h1v1h-1zM339 300h1v1h-1zM344 300h1v1h-1zM349 300h1v1h-1zM354 300h1v1h-1zM359 300h1v1h-1zM364 300h1v1h-1zM369 300h1v1h-1zM374 300h1v1h-1zM379 300h1v1h-1zM384 300h1v1h-1zM389 300h1v1h-1zM394 300h1v1h-1zM399 300h1v1h-1zM404 300h1v1h-1zM409 300h1v1h-1zM414 300h1v1h-1zM419 300h1v1h-1zM424 300h1v1h-1zM429 300h1v1h-1zM434 300h1v1h-1zM439 300h1v1h-1zM444 300h1v1h-1zM449 300h1v1h-1zM454 300h1v1h-1zM459 300h1v1h-1zM464 300h1v1h-1zM469 300h1v1h-1zM474 300h1v1h-1zM479 300h1v1h-1zM484 300h1v1h-1zM489 300h1v1h-1zM494 300h1v1h-1zM499 300h1v1h-1zM504 300h1v1h-1zM509 300h1v1h-1zM514 300h1v1h-1zM519 300h1v1h-1zM524 300h1v1h-1zM529 300h1v1h-1zM534 300h1v1h-1zM539 300h1v1h-1zM544 300h1v1h-1zM549 300h1v1h-1zM554 300h1v1h-1z"/>
<rect x="156" y="295" width="1" height="69"/>
<rect x="156" y="363" width="403" height="1"/>
<rect x="193" y="358" width="1" height="5"/>
<rect x="287" y="358" width="1" height="5"/>
<rect x="380" y="358" width="1" height="5"/>
<rect x="474" y="358" width="1" height="5"/>
<rect x="157" y="300" width="5" height="1"/>
<rect x="157" y="328" width="5" height="1"/>
<rect x="157" y="356" width="5" height="1"/>
</g>
<path fill="#00008f" shape-rendering="crispEdges" d="M156 363h1v1h-1zM157 362h1v1h-1zM158 362h1v1h-1zM159 362h1v1h-1zM160 361h1v1h-1zM161 360h1v1h-1zM162 360h1v1h-1zM163 360h1v1h-1zM164 360h1v1h-1zM165 359h1v1h-1zM166 359h1v2h-1zM167 358h1v1h-1zM168 358h1v1h-1zM169 358h1v1h-1zM170 357h1v1h-1zM171 358h1v1h-1zM172 357h1v1h-1zM173 356h1v1h-1zM174 355h1v1h-1zM175 356h1v1h-1zM176 355h1v1h-1zM177 355h1v1h-1zM178 355h1v1h-1zM179 355h1v1h-1zM180 354h1v1h-1zM181 353h1v1h-1zM182 353h1v1h-1zM183 353h1v1h-1zM184 352h1v1h-1zM185 351h1v1h-1zM186 351h1v1h-1zM187 351h1v1h-1zM188 351h1v1h-1zM189 351h1v2h-1zM190 349h1v2h-1zM191 349h1v1h-1zM192 349h1v1h-1zM193 349h1v2h-1zM194 347h1v2h-1zM195 347h1v1h-1zM196 348h1v1h-1zM197 348h1v1h-1zM198 347h1v1h-1zM199 346h1v2h-1zM200 344h1v2h-1zM201 345h1v1h-1zM202 345h1v1h-1zM203 344h1v1h-1zM204 343h1v1h-1zM205 344h1v1h-1zM206 344h1v1h-1zM207 344h1v1h-1zM208 342h1v2h-1zM209 341h1v1h-1zM210 341h1v2h-1zM211 340h1v1h-1zM212 340h1v1h-1zM213 340h1v1h-1zM214 341h1v1h-1zM215 340h1v1h-1zM216 340h1v1h-1zM217 339h1v1h-1zM218 338h1v1h-1zM219 338h1v1h-1zM220 338h1v1h-1zM221 337h1v1h-1zM222 336h1v1h-1zM223 335h1v1h-1zM224 336h1v1h-1zM225 336h1v1h-1zM226 335h1v1h-1zM227 335h1v1h-1zM228 335h1v2h-1zM229 333h1v2h-1zM230 333h1v1h-1zM231 333h1v1h-1zM232 333h1v2h-1zM233 331h1v2h-1zM234 332h1v1h-1zM235 331h1v1h-1zM236 331h1v1h-1zM237 331h1v1h-1zM238 330h1v1h-1zM239 329h1v2h-1zM240 331h1v2h-1zM241 331h1v1h-1zM242 329h1v2h-1zM243 328h1v1h-1zM244 327h1v2h-1zM245 326h1v1h-1zM246 327h1v1h-1zM247 327h1v2h-1zM248 326h1v1h-1zM249 327h1v2h-1zM250 329h1v1h-1zM251 328h1v1h-1zM252 326h1v2h-1zM253 325h1v1h-1zM254 325h1v1h-1zM255 324h1v1h-1zM256 325h1v1h-1zM257 326h1v1h-1zM258 325h1v2h-1zM259 324h1v1h-1zM260 325h1v1h-1zM261 324h1v1h-1zM262 323h1v1h-1zM263 323h1v1h-1zM264 323h1v1h-1zM265 323h1v1h-1zM266 322h1v1h-1zM267 323h1v1h-1zM268 323h1v2h-1zM269 322h1v1h-1zM270 322h1v1h-1zM271 320h1v2h-1zM272 318h1v2h-1zM273 319h1v1h-1zM274 320h1v1h-1zM275 320h1v1h-1zM276 319h1v1h-1zM277 318h1v2h-1zM278 317h1v1h-1zM279 318h1v1h-1zM280 318h1v1h-1zM281 317h1v2h-1zM282 317h1v3h-1zM283 314h1v3h-1zM284 313h1v1h-1zM285 313h1v1h-1zM286 314h1v2h-1zM287 316h1v1h-1zM288 315h1v1h-1zM289 315h1v1h-1zM290 315h1v1h-1zM291 313h1v2h-1zM292 312h1v1h-1zM293 312h1v2h-1zM294 311h1v1h-1zM295 311h1v1h-1zM296 312h1v1h-1zM297 312h1v1h-1zM298 312h1v2h-1zM299 311h1v1h-1zM300 311h1v1h-1zM301 311h1v1h-1zM302 312h1v1h-1zM303 311h1v1h-1zM304 311h1v1h-1zM305 309h1v2h-1zM306 308h1v2h-1zM307 310h1v1h-1zM308 310h1v1h-1zM309 311h1v2h-1zM310 312h1v2h-1zM311 310h1v2h-1zM312 308h1v2h-1zM313 309h1v1h-1zM314 309h1v1h-1zM315 310h1v1h-1zM316 309h1v1h-1zM317 310h1v1h-1zM318 311h1v1h-1zM319 310h1v1h-1zM320 308h1v2h-1zM321 306h1v2h-1zM322 305h1v1h-1zM323 306h1v1h-1zM324 304h1v2h-1zM325 303h1v1h-1zM326 303h1v2h-1zM327 302h1v1h-1zM328 303h1v1h-1zM329 303h1v1h-1zM330 302h1v1h-1zM331 303h1v1h-1zM332 303h1v2h-1zM333 302h1v1h-1zM334 302h1v1h-1zM335 301h1v1h-1zM336 302h1v1h-1zM337 301h1v1h-1zM338 302h1v1h-1zM339 302h1v2h-1zM340 301h1v1h-1zM341 301h1v2h-1zM342 299h1v2h-1zM343 300h1v1h-1zM344 301h1v1h-1zM345 300h1v2h-1zM346 298h1v3h-1zM347 301h1v2h-1zM348 299h1v2h-1zM349 298h1v2h-1zM350 300h1v1h-1zM351 300h1v2h-1zM352 302h1v2h-1zM353 301h1v2h-1zM354 300h1v2h-1zM355 302h1v2h-1zM356 304h1v1h-1zM357 305h1v1h-1zM358 305h1v1h-1zM359 305h1v1h-1zM360 304h1v1h-1zM361 304h1v2h-1zM362 302h1v2h-1zM363 302h1v1h-1zM364 301h1v2h-1zM365 299h1v3h-1zM366 301h1v3h-1zM367 299h1v2h-1zM368 299h1v1h-1zM369 298h1v1h-1zM370 298h1v2h-1zM371 299h1v2h-1zM372 298h1v1h-1zM373 298h1v1h-1zM374 298h1v2h-1zM375 299h1v3h-1zM376 296h1v3h-1zM377 297h1v1h-1zM378 297h1v2h-1zM379 296h1v2h-1zM380 298h1v1h-1zM381 298h1v1h-1zM382 298h1v1h-1zM383 298h1v1h-1zM384 298h1v2h-1zM385 296h1v2h-1zM386 295h1v1h-1zM387 295h1v1h-1zM388 295h1v3h-1zM389 298h1v2h-1zM390 296h1v2h-1zM391 296h1v1h-1zM392 297h1v2h-1zM393 298h1v2h-1zM394 297h1v2h-1zM395 299h1v3h-1zM396 302h1v1h-1zM397 301h1v1h-1zM398 300h1v2h-1zM399 302h1v2h-1zM400 301h1v2h-1zM401 303h1v1h-1zM402 304h1v2h-1zM403 304h1v3h-1zM404 302h1v2h-1zM405 304h1v2h-1zM406 304h1v2h-1zM407 302h1v2h-1zM408 300h1v2h-1zM409 299h1v1h-1zM410 299h1v1h-1zM411 299h1v1h-1zM412 299h1v2h-1zM413 298h1v1h-1zM414 297h1v1h-1zM415 297h1v1h-1zM416 297h1v1h-1zM417 298h1v1h-1zM418 297h1v2h-1zM419 298h1v3h-1zM420 296h1v2h-1zM421 297h1v2h-1zM422 299h1v1h-1zM423 298h1v1h-1zM424 299h1v1h-1zM425 300h1v1h-1zM426 300h1v1h-1zM427 300h1v2h-1zM428 298h1v2h-1zM429 300h1v1h-1zM430 299h1v1h-1zM431 299h1v1h-1zM432 300h1v1h-1zM433 301h1v1h-1zM434 300h1v1h-1zM435 301h1v1h-1zM436 301h1v1h-1zM437 301h1v2h-1zM438 303h1v1h-1zM439 303h1v1h-1zM440 304h1v1h-1zM441 303h1v1h-1zM442 302h1v1h-1zM443 302h1v1h-1zM444 303h1v2h-1zM445 305h1v1h-1zM446 305h1v1h-1zM447 305h1v2h-1zM448 307h1v1h-1zM449 308h1v1h-1zM450 308h1v1h-1zM451 308h1v2h-1zM452 306h1v2h-1zM453 305h1v1h-1zM454 305h1v1h-1zM455 306h1v1h-1zM456 307h1v1h-1zM457 306h1v2h-1zM458 304h1v2h-1zM459 306h1v2h-1zM460 307h1v1h-1zM461 307h1v2h-1zM462 309h1v2h-1zM463 310h1v2h-1zM464 312h1v2h-1zM465 312h1v1h-1zM466 310h1v2h-1zM467 308h1v2h-1zM468 310h1v2h-1zM469 308h1v2h-1zM470 306h1v2h-1zM471 304h1v2h-1zM472 304h1v1h-1zM473 304h1v1h-1zM474 305h1v1h-1zM475 305h1v1h-1zM476 306h1v2h-1zM477 308h1v1h-1zM478 309h1v2h-1zM479 311h1v2h-1zM480 310h1v2h-1zM481 309h1v1h-1zM482 310h1v2h-1zM483 312h1v1h-1zM484 312h1v1h-1zM485 311h1v1h-1zM486 310h1v2h-1zM487 309h1v4h-1zM488 306h1v3h-1zM489 306h1v1h-1zM490 307h1v1h-1zM491 308h1v1h-1zM492 309h1v1h-1zM493 308h1v1h-1zM494 309h1v1h-1zM495 310h1v1h-1zM496 310h1v2h-1zM497 309h1v1h-1zM498 309h1v1h-1zM499 309h1v1h-1zM500 310h1v2h-1zM501 312h1v2h-1zM502 314h1v1h-1zM503 313h1v1h-1zM504 313h1v1h-1zM505 314h1v1h-1zM506 314h1v2h-1zM507 316h1v1h-1zM508 316h1v1h-1zM509 316h1v1h-1zM510 316h1v1h-1zM511 315h1v2h-1zM512 317h1v2h-1zM513 315h1v2h-1zM514 316h1v2h-1zM515 317h1v2h-1zM516 316h1v2h-1zM517 317h1v2h-1zM518 316h1v1h-1zM519 316h1v1h-1zM520 317h1v2h-1zM521 319h1v2h-1zM522 319h1v1h-1zM523 319h1v1h-1zM524 319h1v2h-1zM525 318h1v1h-1zM526 318h1v1h-1zM527 319h1v1h-1zM528 319h1v1h-1zM529 320h1v1h-1zM530 319h1v1h-1zM531 319h1v1h-1zM532 319h1v1h-1zM533 319h1v1h-1zM534 319h1v1h-1zM535 319h1v2h-1zM536 321h1v2h-1zM537 320h1v1h-1zM538 321h1v1h-1zM539 322h1v1h-1zM540 321h1v2h-1zM541 323h1v1h-1zM542 323h1v1h-1zM543 324h1v2h-1zM544 325h1v2h-1zM545 324h1v2h-1zM546 326h1v1h-1zM547 325h1v2h-1zM548 327h1v2h-1zM549 329h1v1h-1zM550 327h1v2h-1zM551 326h1v1h-1zM552 326h1v1h-1zM553 326h1v1h-1zM554 326h1v1h-1zM555 326h1v1h-1zM556 326h1v1h-1zM557 326h1v1h-1zM558 325h1v1h-1z"/>
<text transform="translate(192.60,399.10) scale(0.94,1)" font-size="24.5" text-anchor="middle">2505</text>
<text transform="translate(286.60,399.10) scale(0.94,1)" font-size="24.5" text-anchor="middle">2510</text>
<text transform="translate(379.60,399.10) scale(0.94,1)" font-size="24.5" text-anchor="middle">2515</text>
<text transform="translate(473.60,399.10) scale(0.94,1)" font-size="24.5" text-anchor="middle">2520</text>
<text transform="translate(150.00,311.90) scale(0.94,1)" font-size="24.5" text-anchor="end">60</text>
<text transform="translate(150.00,339.90) scale(0.94,1)" font-size="24.5" text-anchor="end">40</text>
<text transform="translate(150.00,367.90) scale(0.94,1)" font-size="24.5" text-anchor="end">20</text>
<text transform="translate(356.00,274.70) scale(0.905,1)" font-size="27.2" text-anchor="middle">Bin 3</text>
<text transform="translate(250.00,436.80) scale(0.887,1)" font-size="27.2" text-anchor="start">Wavenumber [cm<tspan x="213.75" dy="-12.6" font-size="16.5">-</tspan><tspan x="221.53" dy="-0.3" font-size="16.5">1</tspan><tspan x="232.47" dy="12.9">]</tspan></text>
<text transform="translate(110.00,330.50) rotate(-90) scale(0.887,1)" font-size="27.2" text-anchor="middle">ADU</text>
<g shape-rendering="crispEdges" fill="#000">
<path d="M721 358h1v1h-1zM721 353h1v1h-1zM721 348h1v1h-1zM721 343h1v1h-1zM721 338h1v1h-1zM721 333h1v1h-1zM721 328h1v1h-1zM721 323h1v1h-1zM721 318h1v1h-1zM721 313h1v1h-1zM721 308h1v1h-1zM721 303h1v1h-1zM721 298h1v1h-1zM815 360h1v1h-1zM815 355h1v1h-1zM815 350h1v1h-1zM815 345h1v1h-1zM815 340h1v1h-1zM815 335h1v1h-1zM815 330h1v1h-1zM815 325h1v1h-1zM815 320h1v1h-1zM815 315h1v1h-1zM815 310h1v1h-1zM815 305h1v1h-1zM815 300h1v1h-1zM908 362h1v1h-1zM908 357h1v1h-1zM908 352h1v1h-1zM908 347h1v1h-1zM908 342h1v1h-1zM908 337h1v1h-1zM908 332h1v1h-1zM908 327h1v1h-1zM908 322h1v1h-1zM908 317h1v1h-1zM908 312h1v1h-1zM908 307h1v1h-1zM908 302h1v1h-1zM908 297h1v1h-1zM1002 359h1v1h-1zM1002 354h1v1h-1zM1002 349h1v1h-1zM1002 344h1v1h-1zM1002 339h1v1h-1zM1002 334h1v1h-1zM1002 329h1v1h-1zM1002 324h1v1h-1zM1002 319h1v1h-1zM1002 314h1v1h-1zM1002 309h1v1h-1zM1002 304h1v1h-1zM1002 299h1v1h-1zM686 355h1v1h-1zM691 355h1v1h-1zM696 355h1v1h-1zM701 355h1v1h-1zM706 355h1v1h-1zM711 355h1v1h-1zM716 355h1v1h-1zM721 355h1v1h-1zM726 355h1v1h-1zM731 355h1v1h-1zM736 355h1v1h-1zM741 355h1v1h-1zM746 355h1v1h-1zM751 355h1v1h-1zM756 355h1v1h-1zM761 355h1v1h-1zM766 355h1v1h-1zM771 355h1v1h-1zM776 355h1v1h-1zM781 355h1v1h-1zM786 355h1v1h-1zM791 355h1v1h-1zM796 355h1v1h-1zM801 355h1v1h-1zM806 355h1v1h-1zM811 355h1v1h-1zM816 355h1v1h-1zM821 355h1v1h-1zM826 355h1v1h-1zM831 355h1v1h-1zM836 355h1v1h-1zM841 355h1v1h-1zM846 355h1v1h-1zM851 355h1v1h-1zM856 355h1v1h-1zM861 355h1v1h-1zM866 355h1v1h-1zM871 355h1v1h-1zM876 355h1v1h-1zM881 355h1v1h-1zM886 355h1v1h-1zM891 355h1v1h-1zM896 355h1v1h-1zM901 355h1v1h-1zM906 355h1v1h-1zM911 355h1v1h-1zM916 355h1v1h-1zM921 355h1v1h-1zM926 355h1v1h-1zM931 355h1v1h-1zM936 355h1v1h-1zM941 355h1v1h-1zM946 355h1v1h-1zM951 355h1v1h-1zM956 355h1v1h-1zM961 355h1v1h-1zM966 355h1v1h-1zM971 355h1v1h-1zM976 355h1v1h-1zM981 355h1v1h-1zM986 355h1v1h-1zM991 355h1v1h-1zM996 355h1v1h-1zM1001 355h1v1h-1zM1006 355h1v1h-1zM1011 355h1v1h-1zM1016 355h1v1h-1zM1021 355h1v1h-1zM1026 355h1v1h-1zM1031 355h1v1h-1zM1036 355h1v1h-1zM1041 355h1v1h-1zM1046 355h1v1h-1zM1051 355h1v1h-1zM1056 355h1v1h-1zM1061 355h1v1h-1zM1066 355h1v1h-1zM1071 355h1v1h-1zM1076 355h1v1h-1zM1081 355h1v1h-1zM1086 355h1v1h-1zM689 325h1v1h-1zM694 325h1v1h-1zM699 325h1v1h-1zM704 325h1v1h-1zM709 325h1v1h-1zM714 325h1v1h-1zM719 325h1v1h-1zM724 325h1v1h-1zM729 325h1v1h-1zM734 325h1v1h-1zM739 325h1v1h-1zM744 325h1v1h-1zM749 325h1v1h-1zM754 325h1v1h-1zM759 325h1v1h-1zM764 325h1v1h-1zM769 325h1v1h-1zM774 325h1v1h-1zM779 325h1v1h-1zM784 325h1v1h-1zM789 325h1v1h-1zM794 325h1v1h-1zM799 325h1v1h-1zM804 325h1v1h-1zM809 325h1v1h-1zM814 325h1v1h-1zM819 325h1v1h-1zM824 325h1v1h-1zM829 325h1v1h-1zM834 325h1v1h-1zM839 325h1v1h-1zM844 325h1v1h-1zM849 325h1v1h-1zM854 325h1v1h-1zM859 325h1v1h-1zM864 325h1v1h-1zM869 325h1v1h-1zM874 325h1v1h-1zM879 325h1v1h-1zM884 325h1v1h-1zM889 325h1v1h-1zM894 325h1v1h-1zM899 325h1v1h-1zM904 325h1v1h-1zM909 325h1v1h-1zM914 325h1v1h-1zM919 325h1v1h-1zM924 325h1v1h-1zM929 325h1v1h-1zM934 325h1v1h-1zM939 325h1v1h-1zM944 325h1v1h-1zM949 325h1v1h-1zM954 325h1v1h-1zM959 325h1v1h-1zM964 325h1v1h-1zM969 325h1v1h-1zM974 325h1v1h-1zM979 325h1v1h-1zM984 325h1v1h-1zM989 325h1v1h-1zM994 325h1v1h-1zM999 325h1v1h-1zM1004 325h1v1h-1zM1009 325h1v1h-1zM1014 325h1v1h-1zM1019 325h1v1h-1zM1024 325h1v1h-1zM1029 325h1v1h-1zM1034 325h1v1h-1zM1039 325h1v1h-1zM1044 325h1v1h-1zM1049 325h1v1h-1zM1054 325h1v1h-1zM1059 325h1v1h-1zM1064 325h1v1h-1zM1069 325h1v1h-1zM1074 325h1v1h-1zM1079 325h1v1h-1zM1084 325h1v1h-1zM687 295h1v1h-1zM692 295h1v1h-1zM697 295h1v1h-1zM702 295h1v1h-1zM707 295h1v1h-1zM712 295h1v1h-1zM717 295h1v1h-1zM722 295h1v1h-1zM727 295h1v1h-1zM732 295h1v1h-1zM737 295h1v1h-1zM742 295h1v1h-1zM747 295h1v1h-1zM752 295h1v1h-1zM757 295h1v1h-1zM762 295h1v1h-1zM767 295h1v1h-1zM772 295h1v1h-1zM777 295h1v1h-1zM782 295h1v1h-1zM787 295h1v1h-1zM792 295h1v1h-1zM797 295h1v1h-1zM802 295h1v1h-1zM807 295h1v1h-1zM812 295h1v1h-1zM817 295h1v1h-1zM822 295h1v1h-1zM827 295h1v1h-1zM832 295h1v1h-1zM837 295h1v1h-1zM842 295h1v1h-1zM847 295h1v1h-1zM852 295h1v1h-1zM857 295h1v1h-1zM862 295h1v1h-1zM867 295h1v1h-1zM872 295h1v1h-1zM877 295h1v1h-1zM882 295h1v1h-1zM887 295h1v1h-1zM892 295h1v1h-1zM897 295h1v1h-1zM902 295h1v1h-1zM907 295h1v1h-1zM912 295h1v1h-1zM917 295h1v1h-1zM922 295h1v1h-1zM927 295h1v1h-1zM932 295h1v1h-1zM937 295h1v1h-1zM942 295h1v1h-1zM947 295h1v1h-1zM952 295h1v1h-1zM957 295h1v1h-1zM962 295h1v1h-1zM967 295h1v1h-1zM972 295h1v1h-1zM977 295h1v1h-1zM982 295h1v1h-1zM987 295h1v1h-1zM992 295h1v1h-1zM997 295h1v1h-1zM1002 295h1v1h-1zM1007 295h1v1h-1zM1012 295h1v1h-1zM1017 295h1v1h-1zM1022 295h1v1h-1zM1027 295h1v1h-1zM1032 295h1v1h-1zM1037 295h1v1h-1zM1042 295h1v1h-1zM1047 295h1v1h-1zM1052 295h1v1h-1zM1057 295h1v1h-1zM1062 295h1v1h-1zM1067 295h1v1h-1zM1072 295h1v1h-1zM1077 295h1v1h-1zM1082 295h1v1h-1z"/>
<rect x="684" y="295" width="1" height="69"/>
<rect x="684" y="363" width="403" height="1"/>
<rect x="721" y="358" width="1" height="5"/>
<rect x="815" y="358" width="1" height="5"/>
<rect x="908" y="358" width="1" height="5"/>
<rect x="1002" y="358" width="1" height="5"/>
<rect x="685" y="295" width="5" height="1"/>
<rect x="685" y="325" width="5" height="1"/>
<rect x="685" y="355" width="5" height="1"/>
</g>
<path fill="#00008f" shape-rendering="crispEdges" d="M684 362h1v2h-1zM685 361h1v1h-1zM686 361h1v1h-1zM687 361h1v2h-1zM688 360h1v1h-1zM689 360h1v1h-1zM690 359h1v1h-1zM691 359h1v1h-1zM692 359h1v1h-1zM693 358h1v2h-1zM694 357h1v1h-1zM695 358h1v1h-1zM696 358h1v1h-1zM697 357h1v2h-1zM698 356h1v1h-1zM699 355h1v1h-1zM700 356h1v1h-1zM701 355h1v1h-1zM702 354h1v1h-1zM703 354h1v1h-1zM704 355h1v1h-1zM705 354h1v1h-1zM706 354h1v1h-1zM707 353h1v1h-1zM708 353h1v1h-1zM709 353h1v1h-1zM710 353h1v1h-1zM711 352h1v1h-1zM712 351h1v1h-1zM713 351h1v1h-1zM714 351h1v1h-1zM715 352h1v1h-1zM716 352h1v1h-1zM717 352h1v1h-1zM718 351h1v2h-1zM719 350h1v1h-1zM720 349h1v1h-1zM721 348h1v1h-1zM722 348h1v2h-1zM723 349h1v2h-1zM724 348h1v1h-1zM725 347h1v1h-1zM726 346h1v2h-1zM727 348h1v1h-1zM728 348h1v1h-1zM729 347h1v1h-1zM730 346h1v1h-1zM731 345h1v1h-1zM732 344h1v1h-1zM733 344h1v1h-1zM734 345h1v1h-1zM735 345h1v1h-1zM736 344h1v1h-1zM737 344h1v1h-1zM738 344h1v1h-1zM739 344h1v1h-1zM740 344h1v1h-1zM741 343h1v1h-1zM742 342h1v1h-1zM743 342h1v1h-1zM744 342h1v1h-1zM745 340h1v2h-1zM746 339h1v1h-1zM747 339h1v1h-1zM748 338h1v1h-1zM749 337h1v1h-1zM750 337h1v1h-1zM751 336h1v1h-1zM752 336h1v1h-1zM753 334h1v2h-1zM754 333h1v1h-1zM755 333h1v1h-1zM756 333h1v1h-1zM757 332h1v1h-1zM758 331h1v1h-1zM759 332h1v1h-1zM760 332h1v2h-1zM761 330h1v2h-1zM762 331h1v1h-1zM763 331h1v1h-1zM764 331h1v1h-1zM765 331h1v1h-1zM766 331h1v2h-1zM767 329h1v2h-1zM768 330h1v1h-1zM769 330h1v1h-1zM770 330h1v1h-1zM771 329h1v1h-1zM772 329h1v1h-1zM773 329h1v1h-1zM774 329h1v1h-1zM775 329h1v1h-1zM776 329h1v1h-1zM777 329h1v1h-1zM778 330h1v1h-1zM779 328h1v2h-1zM780 327h1v1h-1zM781 327h1v1h-1zM782 328h1v1h-1zM783 329h1v1h-1zM784 327h1v2h-1zM785 326h1v1h-1zM786 325h1v1h-1zM787 326h1v1h-1zM788 325h1v1h-1zM789 325h1v1h-1zM790 325h1v1h-1zM791 323h1v2h-1zM792 322h1v1h-1zM793 322h1v1h-1zM794 323h1v1h-1zM795 324h1v1h-1zM796 323h1v1h-1zM797 323h1v1h-1zM798 321h1v2h-1zM799 320h1v1h-1zM800 319h1v1h-1zM801 320h1v1h-1zM802 319h1v1h-1zM803 320h1v1h-1zM804 320h1v2h-1zM805 318h1v2h-1zM806 318h1v2h-1zM807 317h1v1h-1zM808 318h1v1h-1zM809 317h1v3h-1zM810 314h1v3h-1zM811 313h1v1h-1zM812 314h1v1h-1zM813 313h1v1h-1zM814 312h1v1h-1zM815 311h1v1h-1zM816 311h1v2h-1zM817 313h1v1h-1zM818 313h1v1h-1zM819 312h1v1h-1zM820 310h1v2h-1zM821 308h1v2h-1zM822 310h1v1h-1zM823 310h1v1h-1zM824 310h1v2h-1zM825 309h1v2h-1zM826 311h1v2h-1zM827 313h1v1h-1zM828 313h1v1h-1zM829 312h1v1h-1zM830 311h1v1h-1zM831 310h1v1h-1zM832 311h1v2h-1zM833 312h1v2h-1zM834 310h1v2h-1zM835 308h1v2h-1zM836 307h1v1h-1zM837 307h1v1h-1zM838 306h1v2h-1zM839 308h1v2h-1zM840 306h1v2h-1zM841 305h1v1h-1zM842 306h1v2h-1zM843 308h1v1h-1zM844 306h1v2h-1zM845 304h1v2h-1zM846 306h1v1h-1zM847 306h1v1h-1zM848 306h1v1h-1zM849 305h1v2h-1zM850 307h1v1h-1zM851 307h1v1h-1zM852 307h1v1h-1zM853 307h1v1h-1zM854 308h1v2h-1zM855 309h1v2h-1zM856 308h1v1h-1zM857 308h1v1h-1zM858 309h1v1h-1zM859 308h1v2h-1zM860 309h1v3h-1zM861 306h1v3h-1zM862 306h1v1h-1zM863 306h1v1h-1zM864 307h1v1h-1zM865 307h1v1h-1zM866 307h1v1h-1zM867 306h1v2h-1zM868 304h1v2h-1zM869 304h1v2h-1zM870 302h1v2h-1zM871 302h1v1h-1zM872 302h1v1h-1zM873 301h1v1h-1zM874 300h1v2h-1zM875 299h1v1h-1zM876 299h1v1h-1zM877 299h1v2h-1zM878 301h1v1h-1zM879 300h1v1h-1zM880 301h1v1h-1zM881 301h1v1h-1zM882 300h1v2h-1zM883 302h1v1h-1zM884 302h1v2h-1zM885 301h1v1h-1zM886 302h1v1h-1zM887 303h1v1h-1zM888 303h1v1h-1zM889 303h1v1h-1zM890 302h1v1h-1zM891 300h1v2h-1zM892 299h1v1h-1zM893 298h1v1h-1zM894 297h1v1h-1zM895 297h1v1h-1zM896 296h1v1h-1zM897 295h1v1h-1zM898 296h1v2h-1zM899 297h1v2h-1zM900 295h1v2h-1zM901 296h1v1h-1zM902 297h1v1h-1zM903 296h1v1h-1zM904 296h1v1h-1zM905 297h1v2h-1zM906 298h1v2h-1zM907 297h1v1h-1zM908 297h1v1h-1zM909 297h1v1h-1zM910 296h1v1h-1zM911 295h1v2h-1zM912 297h1v1h-1zM913 297h1v2h-1zM914 296h1v1h-1zM915 296h1v1h-1zM916 295h1v3h-1zM917 298h1v2h-1zM918 298h1v1h-1zM919 297h1v1h-1zM920 297h1v1h-1zM921 298h1v2h-1zM922 300h1v2h-1zM923 301h1v2h-1zM924 303h1v1h-1zM925 303h1v1h-1zM926 304h1v1h-1zM927 305h1v2h-1zM928 307h1v1h-1zM929 305h1v2h-1zM930 301h1v4h-1zM931 299h1v3h-1zM932 302h1v2h-1zM933 300h1v2h-1zM934 299h1v1h-1zM935 299h1v1h-1zM936 298h1v2h-1zM937 296h1v2h-1zM938 297h1v1h-1zM939 297h1v1h-1zM940 297h1v1h-1zM941 297h1v1h-1zM942 296h1v2h-1zM943 298h1v2h-1zM944 299h1v1h-1zM945 298h1v2h-1zM946 296h1v2h-1zM947 295h1v2h-1zM948 297h1v2h-1zM949 298h1v1h-1zM950 297h1v1h-1zM951 297h1v1h-1zM952 298h1v1h-1zM953 297h1v1h-1zM954 297h1v1h-1zM955 297h1v2h-1zM956 295h1v2h-1zM957 296h1v2h-1zM958 298h1v2h-1zM959 299h1v1h-1zM960 300h1v1h-1zM961 299h1v1h-1zM962 300h1v1h-1zM963 301h1v1h-1zM964 301h1v1h-1zM965 301h1v1h-1zM966 301h1v2h-1zM967 299h1v2h-1zM968 301h1v2h-1zM969 302h1v1h-1zM970 302h1v1h-1zM971 303h1v2h-1zM972 305h1v1h-1zM973 304h1v1h-1zM974 304h1v1h-1zM975 303h1v2h-1zM976 305h1v2h-1zM977 306h1v1h-1zM978 307h1v2h-1zM979 308h1v2h-1zM980 306h1v2h-1zM981 306h1v1h-1zM982 306h1v1h-1zM983 306h1v1h-1zM984 305h1v1h-1zM985 304h1v3h-1zM986 302h1v3h-1zM987 305h1v3h-1zM988 303h1v3h-1zM989 301h1v2h-1zM990 303h1v2h-1zM991 305h1v1h-1zM992 305h1v1h-1zM993 306h1v1h-1zM994 307h1v3h-1zM995 310h1v2h-1zM996 307h1v3h-1zM997 306h1v1h-1zM998 306h1v1h-1zM999 306h1v1h-1zM1000 305h1v1h-1zM1001 305h1v1h-1zM1002 304h1v1h-1zM1003 304h1v1h-1zM1004 305h1v1h-1zM1005 306h1v1h-1zM1006 306h1v1h-1zM1007 307h1v1h-1zM1008 307h1v1h-1zM1009 308h1v2h-1zM1010 310h1v1h-1zM1011 309h1v1h-1zM1012 309h1v1h-1zM1013 310h1v1h-1zM1014 309h1v2h-1zM1015 308h1v1h-1zM1016 308h1v1h-1zM1017 308h1v1h-1zM1018 306h1v2h-1zM1019 304h1v3h-1zM1020 307h1v2h-1zM1021 307h1v1h-1zM1022 307h1v1h-1zM1023 308h1v1h-1zM1024 309h1v1h-1zM1025 309h1v1h-1zM1026 310h1v1h-1zM1027 310h1v1h-1zM1028 310h1v1h-1zM1029 310h1v2h-1zM1030 312h1v1h-1zM1031 311h1v1h-1zM1032 312h1v1h-1zM1033 313h1v1h-1zM1034 312h1v2h-1zM1035 313h1v2h-1zM1036 312h1v1h-1zM1037 312h1v1h-1zM1038 313h1v2h-1zM1039 315h1v2h-1zM1040 316h1v2h-1zM1041 314h1v2h-1zM1042 316h1v2h-1zM1043 318h1v2h-1zM1044 319h1v2h-1zM1045 317h1v2h-1zM1046 319h1v1h-1zM1047 317h1v2h-1zM1048 316h1v1h-1zM1049 317h1v2h-1zM1050 319h1v2h-1zM1051 320h1v1h-1zM1052 321h1v1h-1zM1053 320h1v2h-1zM1054 319h1v1h-1zM1055 319h1v1h-1zM1056 320h1v2h-1zM1057 322h1v2h-1zM1058 322h1v3h-1zM1059 320h1v2h-1zM1060 322h1v1h-1zM1061 321h1v1h-1zM1062 320h1v1h-1zM1063 321h1v2h-1zM1064 323h1v1h-1zM1065 323h1v1h-1zM1066 322h1v1h-1zM1067 321h1v2h-1zM1068 323h1v2h-1zM1069 321h1v2h-1zM1070 323h1v1h-1zM1071 323h1v1h-1zM1072 322h1v1h-1zM1073 322h1v2h-1zM1074 324h1v2h-1zM1075 323h1v1h-1zM1076 323h1v1h-1zM1077 322h1v1h-1zM1078 321h1v3h-1zM1079 324h1v3h-1zM1080 324h1v1h-1zM1081 324h1v1h-1zM1082 324h1v1h-1zM1083 324h1v1h-1zM1084 325h1v1h-1zM1085 324h1v1h-1zM1086 323h1v1h-1z"/>
<text transform="translate(720.60,399.10) scale(0.94,1)" font-size="24.5" text-anchor="middle">2505</text>
<text transform="translate(814.60,399.10) scale(0.94,1)" font-size="24.5" text-anchor="middle">2510</text>
<text transform="translate(907.60,399.10) scale(0.94,1)" font-size="24.5" text-anchor="middle">2515</text>
<text transform="translate(1001.60,399.10) scale(0.94,1)" font-size="24.5" text-anchor="middle">2520</text>
<text transform="translate(678.00,306.90) scale(0.94,1)" font-size="24.5" text-anchor="end">60</text>
<text transform="translate(678.00,336.90) scale(0.94,1)" font-size="24.5" text-anchor="end">40</text>
<text transform="translate(678.00,366.90) scale(0.94,1)" font-size="24.5" text-anchor="end">20</text>
<text transform="translate(884.00,274.70) scale(0.905,1)" font-size="27.2" text-anchor="middle">Bin 4</text>
<text transform="translate(778.00,436.80) scale(0.887,1)" font-size="27.2" text-anchor="start">Wavenumber [cm<tspan x="213.75" dy="-12.6" font-size="16.5">-</tspan><tspan x="221.53" dy="-0.3" font-size="16.5">1</tspan><tspan x="232.47" dy="12.9">]</tspan></text>
<text transform="translate(638.00,330.50) rotate(-90) scale(0.887,1)" font-size="27.2" text-anchor="middle">ADU</text>
<g shape-rendering="crispEdges" fill="#000">
<path d="M193 555h1v1h-1zM193 550h1v1h-1zM193 545h1v1h-1zM193 540h1v1h-1zM193 535h1v1h-1zM193 530h1v1h-1zM193 525h1v1h-1zM193 520h1v1h-1zM193 515h1v1h-1zM193 510h1v1h-1zM193 505h1v1h-1zM193 500h1v1h-1zM193 495h1v1h-1zM287 557h1v1h-1zM287 552h1v1h-1zM287 547h1v1h-1zM287 542h1v1h-1zM287 537h1v1h-1zM287 532h1v1h-1zM287 527h1v1h-1zM287 522h1v1h-1zM287 517h1v1h-1zM287 512h1v1h-1zM287 507h1v1h-1zM287 502h1v1h-1zM287 497h1v1h-1zM380 559h1v1h-1zM380 554h1v1h-1zM380 549h1v1h-1zM380 544h1v1h-1zM380 539h1v1h-1zM380 534h1v1h-1zM380 529h1v1h-1zM380 524h1v1h-1zM380 519h1v1h-1zM380 514h1v1h-1zM380 509h1v1h-1zM380 504h1v1h-1zM380 499h1v1h-1zM380 494h1v1h-1zM474 556h1v1h-1zM474 551h1v1h-1zM474 546h1v1h-1zM474 541h1v1h-1zM474 536h1v1h-1zM474 531h1v1h-1zM474 526h1v1h-1zM474 521h1v1h-1zM474 516h1v1h-1zM474 511h1v1h-1zM474 506h1v1h-1zM474 501h1v1h-1zM474 496h1v1h-1zM158 550h1v1h-1zM163 550h1v1h-1zM168 550h1v1h-1zM173 550h1v1h-1zM178 550h1v1h-1zM183 550h1v1h-1zM188 550h1v1h-1zM193 550h1v1h-1zM198 550h1v1h-1zM203 550h1v1h-1zM208 550h1v1h-1zM213 550h1v1h-1zM218 550h1v1h-1zM223 550h1v1h-1zM228 550h1v1h-1zM233 550h1v1h-1zM238 550h1v1h-1zM243 550h1v1h-1zM248 550h1v1h-1zM253 550h1v1h-1zM258 550h1v1h-1zM263 550h1v1h-1zM268 550h1v1h-1zM273 550h1v1h-1zM278 550h1v1h-1zM283 550h1v1h-1zM288 550h1v1h-1zM293 550h1v1h-1zM298 550h1v1h-1zM303 550h1v1h-1zM308 550h1v1h-1zM313 550h1v1h-1zM318 550h1v1h-1zM323 550h1v1h-1zM328 550h1v1h-1zM333 550h1v1h-1zM338 550h1v1h-1zM343 550h1v1h-1zM348 550h1v1h-1zM353 550h1v1h-1zM358 550h1v1h-1zM363 550h1v1h-1zM368 550h1v1h-1zM373 550h1v1h-1zM378 550h1v1h-1zM383 550h1v1h-1zM388 550h1v1h-1zM393 550h1v1h-1zM398 550h1v1h-1zM403 550h1v1h-1zM408 550h1v1h-1zM413 550h1v1h-1zM418 550h1v1h-1zM423 550h1v1h-1zM428 550h1v1h-1zM433 550h1v1h-1zM438 550h1v1h-1zM443 550h1v1h-1zM448 550h1v1h-1zM453 550h1v1h-1zM458 550h1v1h-1zM463 550h1v1h-1zM468 550h1v1h-1zM473 550h1v1h-1zM478 550h1v1h-1zM483 550h1v1h-1zM488 550h1v1h-1zM493 550h1v1h-1zM498 550h1v1h-1zM503 550h1v1h-1zM508 550h1v1h-1zM513 550h1v1h-1zM518 550h1v1h-1zM523 550h1v1h-1zM528 550h1v1h-1zM533 550h1v1h-1zM538 550h1v1h-1zM543 550h1v1h-1zM548 550h1v1h-1zM553 550h1v1h-1zM558 550h1v1h-1zM161 520h1v1h-1zM166 520h1v1h-1zM171 520h1v1h-1zM176 520h1v1h-1zM181 520h1v1h-1zM186 520h1v1h-1zM191 520h1v1h-1zM196 520h1v1h-1zM201 520h1v1h-1zM206 520h1v1h-1zM211 520h1v1h-1zM216 520h1v1h-1zM221 520h1v1h-1zM226 520h1v1h-1zM231 520h1v1h-1zM236 520h1v1h-1zM241 520h1v1h-1zM246 520h1v1h-1zM251 520h1v1h-1zM256 520h1v1h-1zM261 520h1v1h-1zM266 520h1v1h-1zM271 520h1v1h-1zM276 520h1v1h-1zM281 520h1v1h-1zM286 520h1v1h-1zM291 520h1v1h-1zM296 520h1v1h-1zM301 520h1v1h-1zM306 520h1v1h-1zM311 520h1v1h-1zM316 520h1v1h-1zM321 520h1v1h-1zM326 520h1v1h-1zM331 520h1v1h-1zM336 520h1v1h-1zM341 520h1v1h-1zM346 520h1v1h-1zM351 520h1v1h-1zM356 520h1v1h-1zM361 520h1v1h-1zM366 520h1v1h-1zM371 520h1v1h-1zM376 520h1v1h-1zM381 520h1v1h-1zM386 520h1v1h-1zM391 520h1v1h-1zM396 520h1v1h-1zM401 520h1v1h-1zM406 520h1v1h-1zM411 520h1v1h-1zM416 520h1v1h-1zM421 520h1v1h-1zM426 520h1v1h-1zM431 520h1v1h-1zM436 520h1v1h-1zM441 520h1v1h-1zM446 520h1v1h-1zM451 520h1v1h-1zM456 520h1v1h-1zM461 520h1v1h-1zM466 520h1v1h-1zM471 520h1v1h-1zM476 520h1v1h-1zM481 520h1v1h-1zM486 520h1v1h-1zM491 520h1v1h-1zM496 520h1v1h-1zM501 520h1v1h-1zM506 520h1v1h-1zM511 520h1v1h-1zM516 520h1v1h-1zM521 520h1v1h-1zM526 520h1v1h-1zM531 520h1v1h-1zM536 520h1v1h-1zM541 520h1v1h-1zM546 520h1v1h-1zM551 520h1v1h-1zM556 520h1v1h-1z"/>
<rect x="156" y="493" width="1" height="68"/>
<rect x="156" y="560" width="403" height="1"/>
<rect x="193" y="555" width="1" height="5"/>
<rect x="287" y="555" width="1" height="5"/>
<rect x="380" y="555" width="1" height="5"/>
<rect x="474" y="555" width="1" height="5"/>
<rect x="157" y="520" width="5" height="1"/>
<rect x="157" y="550" width="5" height="1"/>
</g>
<path fill="#00008f" shape-rendering="crispEdges" d="M156 559h1v2h-1zM157 558h1v1h-1zM158 558h1v1h-1zM159 558h1v2h-1zM160 557h1v1h-1zM161 556h1v2h-1zM162 555h1v1h-1zM163 555h1v1h-1zM164 555h1v1h-1zM165 555h1v1h-1zM166 555h1v2h-1zM167 554h1v1h-1zM168 554h1v1h-1zM169 554h1v1h-1zM170 553h1v1h-1zM171 554h1v1h-1zM172 553h1v1h-1zM173 552h1v1h-1zM174 551h1v1h-1zM175 551h1v1h-1zM176 551h1v1h-1zM177 550h1v1h-1zM178 550h1v1h-1zM179 549h1v1h-1zM180 550h1v1h-1zM181 549h1v1h-1zM182 549h1v1h-1zM183 549h1v1h-1zM184 548h1v2h-1zM185 547h1v1h-1zM186 548h1v1h-1zM187 547h1v1h-1zM188 547h1v1h-1zM189 547h1v1h-1zM190 546h1v1h-1zM191 547h1v1h-1zM192 547h1v1h-1zM193 546h1v1h-1zM194 545h1v1h-1zM195 545h1v1h-1zM196 546h1v1h-1zM197 544h1v2h-1zM198 543h1v1h-1zM199 542h1v1h-1zM200 543h1v1h-1zM201 544h1v1h-1zM202 542h1v2h-1zM203 541h1v1h-1zM204 542h1v1h-1zM205 540h1v2h-1zM206 539h1v1h-1zM207 540h1v1h-1zM208 540h1v2h-1zM209 539h1v1h-1zM210 539h1v2h-1zM211 538h1v1h-1zM212 538h1v1h-1zM213 537h1v2h-1zM214 538h1v2h-1zM215 537h1v1h-1zM216 536h1v1h-1zM217 536h1v1h-1zM218 536h1v2h-1zM219 535h1v1h-1zM220 535h1v2h-1zM221 534h1v1h-1zM222 534h1v1h-1zM223 535h1v1h-1zM224 534h1v2h-1zM225 533h1v1h-1zM226 533h1v1h-1zM227 533h1v1h-1zM228 533h1v1h-1zM229 533h1v1h-1zM230 533h1v1h-1zM231 532h1v1h-1zM232 531h1v1h-1zM233 532h1v1h-1zM234 531h1v2h-1zM235 530h1v1h-1zM236 530h1v1h-1zM237 529h1v2h-1zM238 528h1v1h-1zM239 526h1v3h-1zM240 524h1v2h-1zM241 525h1v1h-1zM242 526h1v1h-1zM243 525h1v2h-1zM244 524h1v1h-1zM245 524h1v1h-1zM246 525h1v2h-1zM247 526h1v2h-1zM248 525h1v2h-1zM249 527h1v1h-1zM250 527h1v1h-1zM251 527h1v1h-1zM252 526h1v1h-1zM253 525h1v1h-1zM254 525h1v1h-1zM255 526h1v1h-1zM256 525h1v1h-1zM257 524h1v1h-1zM258 523h1v1h-1zM259 522h1v2h-1zM260 524h1v2h-1zM261 524h1v1h-1zM262 523h1v1h-1zM263 521h1v3h-1zM264 519h1v2h-1zM265 520h1v2h-1zM266 522h1v1h-1zM267 521h1v1h-1zM268 520h1v1h-1zM269 519h1v1h-1zM270 519h1v1h-1zM271 517h1v2h-1zM272 516h1v1h-1zM273 515h1v1h-1zM274 515h1v1h-1zM275 515h1v1h-1zM276 515h1v2h-1zM277 517h1v1h-1zM278 515h1v2h-1zM279 514h1v1h-1zM280 512h1v2h-1zM281 511h1v2h-1zM282 512h1v2h-1zM283 510h1v2h-1zM284 511h1v1h-1zM285 511h1v1h-1zM286 510h1v1h-1zM287 511h1v1h-1zM288 510h1v1h-1zM289 509h1v1h-1zM290 509h1v1h-1zM291 509h1v2h-1zM292 508h1v2h-1zM293 510h1v2h-1zM294 512h1v1h-1zM295 510h1v2h-1zM296 509h1v2h-1zM297 511h1v1h-1zM298 510h1v1h-1zM299 509h1v1h-1zM300 509h1v1h-1zM301 509h1v1h-1zM302 508h1v1h-1zM303 509h1v1h-1zM304 509h1v1h-1zM305 508h1v1h-1zM306 507h1v2h-1zM307 506h1v1h-1zM308 505h1v1h-1zM309 505h1v1h-1zM310 504h1v2h-1zM311 506h1v1h-1zM312 505h1v2h-1zM313 504h1v1h-1zM314 504h1v1h-1zM315 503h1v1h-1zM316 503h1v1h-1zM317 503h1v2h-1zM318 501h1v2h-1zM319 501h1v1h-1zM320 502h1v2h-1zM321 504h1v1h-1zM322 502h1v2h-1zM323 501h1v1h-1zM324 502h1v2h-1zM325 504h1v2h-1zM326 506h1v1h-1zM327 505h1v1h-1zM328 506h1v1h-1zM329 507h1v1h-1zM330 508h1v1h-1zM331 508h1v2h-1zM332 506h1v2h-1zM333 504h1v2h-1zM334 504h1v1h-1zM335 504h1v2h-1zM336 502h1v2h-1zM337 501h1v1h-1zM338 501h1v1h-1zM339 499h1v2h-1zM340 498h1v2h-1zM341 499h1v2h-1zM342 498h1v1h-1zM343 498h1v1h-1zM344 498h1v1h-1zM345 498h1v2h-1zM346 499h1v3h-1zM347 496h1v3h-1zM348 497h1v2h-1zM349 499h1v1h-1zM350 499h1v1h-1zM351 499h1v1h-1zM352 499h1v1h-1zM353 500h1v1h-1zM354 501h1v1h-1zM355 500h1v1h-1zM356 499h1v1h-1zM357 499h1v1h-1zM358 499h1v1h-1zM359 500h1v1h-1zM360 499h1v2h-1zM361 497h1v2h-1zM362 497h1v1h-1zM363 497h1v1h-1zM364 497h1v2h-1zM365 495h1v3h-1zM366 498h1v2h-1zM367 496h1v2h-1zM368 494h1v2h-1zM369 493h1v3h-1zM370 496h1v2h-1zM371 494h1v2h-1zM372 496h1v1h-1zM373 496h1v1h-1zM374 495h1v1h-1zM375 494h1v3h-1zM376 497h1v2h-1zM377 497h1v1h-1zM378 496h1v1h-1zM379 495h1v1h-1zM380 495h1v2h-1zM381 493h1v2h-1zM382 494h1v1h-1zM383 495h1v1h-1zM384 495h1v2h-1zM385 493h1v2h-1zM386 494h1v1h-1zM387 494h1v1h-1zM388 494h1v2h-1zM389 493h1v2h-1zM390 495h1v1h-1zM391 495h1v1h-1zM392 495h1v1h-1zM393 495h1v3h-1zM394 498h1v2h-1zM395 498h1v1h-1zM396 498h1v1h-1zM397 499h1v1h-1zM398 500h1v1h-1zM399 500h1v1h-1zM400 499h1v1h-1zM401 499h1v1h-1zM402 499h1v1h-1zM403 499h1v2h-1zM404 498h1v1h-1zM405 496h1v2h-1zM406 494h1v2h-1zM407 494h1v1h-1zM408 494h1v1h-1zM409 493h1v1h-1zM410 494h1v1h-1zM411 494h1v1h-1zM412 495h1v1h-1zM413 495h1v1h-1zM414 494h1v1h-1zM415 495h1v1h-1zM416 495h1v1h-1zM417 496h1v1h-1zM418 495h1v1h-1zM419 495h1v2h-1zM420 497h1v2h-1zM421 498h1v1h-1zM422 497h1v1h-1zM423 497h1v1h-1zM424 498h1v1h-1zM425 499h1v1h-1zM426 497h1v2h-1zM427 496h1v1h-1zM428 496h1v2h-1zM429 498h1v2h-1zM430 498h1v1h-1zM431 498h1v1h-1zM432 498h1v1h-1zM433 499h1v1h-1zM434 498h1v2h-1zM435 496h1v2h-1zM436 498h1v2h-1zM437 500h1v2h-1zM438 498h1v2h-1zM439 499h1v2h-1zM440 498h1v1h-1zM441 499h1v2h-1zM442 501h1v1h-1zM443 500h1v1h-1zM444 501h1v1h-1zM445 500h1v1h-1zM446 501h1v2h-1zM447 502h1v2h-1zM448 500h1v2h-1zM449 501h1v2h-1zM450 499h1v2h-1zM451 497h1v2h-1zM452 496h1v2h-1zM453 498h1v1h-1zM454 498h1v1h-1zM455 499h1v1h-1zM456 500h1v2h-1zM457 502h1v2h-1zM458 503h1v2h-1zM459 505h1v1h-1zM460 505h1v1h-1zM461 504h1v2h-1zM462 506h1v1h-1zM463 506h1v1h-1zM464 505h1v1h-1zM465 505h1v1h-1zM466 504h1v2h-1zM467 506h1v1h-1zM468 507h1v1h-1zM469 507h1v1h-1zM470 507h1v1h-1zM471 505h1v3h-1zM472 503h1v2h-1zM473 503h1v1h-1zM474 503h1v1h-1zM475 503h1v1h-1zM476 503h1v1h-1zM477 503h1v2h-1zM478 505h1v2h-1zM479 506h1v1h-1zM480 504h1v2h-1zM481 503h1v3h-1zM482 506h1v2h-1zM483 508h1v1h-1zM484 508h1v1h-1zM485 508h1v2h-1zM486 509h1v2h-1zM487 508h1v1h-1zM488 509h1v1h-1zM489 507h1v2h-1zM490 505h1v2h-1zM491 504h1v2h-1zM492 506h1v1h-1zM493 506h1v1h-1zM494 506h1v1h-1zM495 507h1v1h-1zM496 508h1v1h-1zM497 507h1v2h-1zM498 509h1v1h-1zM499 509h1v1h-1zM500 508h1v1h-1zM501 508h1v2h-1zM502 510h1v1h-1zM503 510h1v1h-1zM504 510h1v1h-1zM505 510h1v2h-1zM506 511h1v3h-1zM507 509h1v3h-1zM508 512h1v3h-1zM509 512h1v2h-1zM510 511h1v1h-1zM511 512h1v2h-1zM512 514h1v1h-1zM513 514h1v1h-1zM514 514h1v1h-1zM515 514h1v1h-1zM516 514h1v1h-1zM517 515h1v1h-1zM518 515h1v1h-1zM519 516h1v2h-1zM520 517h1v2h-1zM521 515h1v3h-1zM522 518h1v2h-1zM523 517h1v2h-1zM524 516h1v2h-1zM525 518h1v1h-1zM526 518h1v1h-1zM527 518h1v1h-1zM528 518h1v1h-1zM529 519h1v1h-1zM530 520h1v2h-1zM531 522h1v1h-1zM532 522h1v1h-1zM533 522h1v1h-1zM534 522h1v1h-1zM535 521h1v1h-1zM536 522h1v2h-1zM537 524h1v2h-1zM538 522h1v2h-1zM539 520h1v2h-1zM540 522h1v2h-1zM541 520h1v2h-1zM542 522h1v2h-1zM543 521h1v2h-1zM544 520h1v1h-1zM545 521h1v1h-1zM546 522h1v1h-1zM547 522h1v1h-1zM548 522h1v1h-1zM549 521h1v3h-1zM550 519h1v2h-1zM551 521h1v1h-1zM552 522h1v1h-1zM553 522h1v1h-1zM554 521h1v2h-1zM555 519h1v2h-1zM556 520h1v1h-1zM557 520h1v1h-1zM558 520h1v1h-1z"/>
<text transform="translate(192.60,596.10) scale(0.94,1)" font-size="24.5" text-anchor="middle">2505</text>
<text transform="translate(286.60,596.10) scale(0.94,1)" font-size="24.5" text-anchor="middle">2510</text>
<text transform="translate(379.60,596.10) scale(0.94,1)" font-size="24.5" text-anchor="middle">2515</text>
<text transform="translate(473.60,596.10) scale(0.94,1)" font-size="24.5" text-anchor="middle">2520</text>
<text transform="translate(150.00,531.90) scale(0.94,1)" font-size="24.5" text-anchor="end">40</text>
<text transform="translate(150.00,561.90) scale(0.94,1)" font-size="24.5" text-anchor="end">20</text>
<text transform="translate(356.00,472.70) scale(0.905,1)" font-size="27.2" text-anchor="middle">Bin 5</text>
<text transform="translate(250.00,633.80) scale(0.887,1)" font-size="27.2" text-anchor="start">Wavenumber [cm<tspan x="213.75" dy="-12.6" font-size="16.5">-</tspan><tspan x="221.53" dy="-0.3" font-size="16.5">1</tspan><tspan x="232.47" dy="12.9">]</tspan></text>
<text transform="translate(110.00,528.00) rotate(-90) scale(0.887,1)" font-size="27.2" text-anchor="middle">ADU</text>
<g shape-rendering="crispEdges" fill="#000">
<path d="M721 555h1v1h-1zM721 550h1v1h-1zM721 545h1v1h-1zM721 540h1v1h-1zM721 535h1v1h-1zM721 530h1v1h-1zM721 525h1v1h-1zM721 520h1v1h-1zM721 515h1v1h-1zM721 510h1v1h-1zM721 505h1v1h-1zM721 500h1v1h-1zM721 495h1v1h-1zM815 557h1v1h-1zM815 552h1v1h-1zM815 547h1v1h-1zM815 542h1v1h-1zM815 537h1v1h-1zM815 532h1v1h-1zM815 527h1v1h-1zM815 522h1v1h-1zM815 517h1v1h-1zM815 512h1v1h-1zM815 507h1v1h-1zM815 502h1v1h-1zM815 497h1v1h-1zM908 559h1v1h-1zM908 554h1v1h-1zM908 549h1v1h-1zM908 544h1v1h-1zM908 539h1v1h-1zM908 534h1v1h-1zM908 529h1v1h-1zM908 524h1v1h-1zM908 519h1v1h-1zM908 514h1v1h-1zM908 509h1v1h-1zM908 504h1v1h-1zM908 499h1v1h-1zM908 494h1v1h-1zM1002 556h1v1h-1zM1002 551h1v1h-1zM1002 546h1v1h-1zM1002 541h1v1h-1zM1002 536h1v1h-1zM1002 531h1v1h-1zM1002 526h1v1h-1zM1002 521h1v1h-1zM1002 516h1v1h-1zM1002 511h1v1h-1zM1002 506h1v1h-1zM1002 501h1v1h-1zM1002 496h1v1h-1zM686 549h1v1h-1zM691 549h1v1h-1zM696 549h1v1h-1zM701 549h1v1h-1zM706 549h1v1h-1zM711 549h1v1h-1zM716 549h1v1h-1zM721 549h1v1h-1zM726 549h1v1h-1zM731 549h1v1h-1zM736 549h1v1h-1zM741 549h1v1h-1zM746 549h1v1h-1zM751 549h1v1h-1zM756 549h1v1h-1zM761 549h1v1h-1zM766 549h1v1h-1zM771 549h1v1h-1zM776 549h1v1h-1zM781 549h1v1h-1zM786 549h1v1h-1zM791 549h1v1h-1zM796 549h1v1h-1zM801 549h1v1h-1zM806 549h1v1h-1zM811 549h1v1h-1zM816 549h1v1h-1zM821 549h1v1h-1zM826 549h1v1h-1zM831 549h1v1h-1zM836 549h1v1h-1zM841 549h1v1h-1zM846 549h1v1h-1zM851 549h1v1h-1zM856 549h1v1h-1zM861 549h1v1h-1zM866 549h1v1h-1zM871 549h1v1h-1zM876 549h1v1h-1zM881 549h1v1h-1zM886 549h1v1h-1zM891 549h1v1h-1zM896 549h1v1h-1zM901 549h1v1h-1zM906 549h1v1h-1zM911 549h1v1h-1zM916 549h1v1h-1zM921 549h1v1h-1zM926 549h1v1h-1zM931 549h1v1h-1zM936 549h1v1h-1zM941 549h1v1h-1zM946 549h1v1h-1zM951 549h1v1h-1zM956 549h1v1h-1zM961 549h1v1h-1zM966 549h1v1h-1zM971 549h1v1h-1zM976 549h1v1h-1zM981 549h1v1h-1zM986 549h1v1h-1zM991 549h1v1h-1zM996 549h1v1h-1zM1001 549h1v1h-1zM1006 549h1v1h-1zM1011 549h1v1h-1zM1016 549h1v1h-1zM1021 549h1v1h-1zM1026 549h1v1h-1zM1031 549h1v1h-1zM1036 549h1v1h-1zM1041 549h1v1h-1zM1046 549h1v1h-1zM1051 549h1v1h-1zM1056 549h1v1h-1zM1061 549h1v1h-1zM1066 549h1v1h-1zM1071 549h1v1h-1zM1076 549h1v1h-1zM1081 549h1v1h-1zM1086 549h1v1h-1zM689 517h1v1h-1zM694 517h1v1h-1zM699 517h1v1h-1zM704 517h1v1h-1zM709 517h1v1h-1zM714 517h1v1h-1zM719 517h1v1h-1zM724 517h1v1h-1zM729 517h1v1h-1zM734 517h1v1h-1zM739 517h1v1h-1zM744 517h1v1h-1zM749 517h1v1h-1zM754 517h1v1h-1zM759 517h1v1h-1zM764 517h1v1h-1zM769 517h1v1h-1zM774 517h1v1h-1zM779 517h1v1h-1zM784 517h1v1h-1zM789 517h1v1h-1zM794 517h1v1h-1zM799 517h1v1h-1zM804 517h1v1h-1zM809 517h1v1h-1zM814 517h1v1h-1zM819 517h1v1h-1zM824 517h1v1h-1zM829 517h1v1h-1zM834 517h1v1h-1zM839 517h1v1h-1zM844 517h1v1h-1zM849 517h1v1h-1zM854 517h1v1h-1zM859 517h1v1h-1zM864 517h1v1h-1zM869 517h1v1h-1zM874 517h1v1h-1zM879 517h1v1h-1zM884 517h1v1h-1zM889 517h1v1h-1zM894 517h1v1h-1zM899 517h1v1h-1zM904 517h1v1h-1zM909 517h1v1h-1zM914 517h1v1h-1zM919 517h1v1h-1zM924 517h1v1h-1zM929 517h1v1h-1zM934 517h1v1h-1zM939 517h1v1h-1zM944 517h1v1h-1zM949 517h1v1h-1zM954 517h1v1h-1zM959 517h1v1h-1zM964 517h1v1h-1zM969 517h1v1h-1zM974 517h1v1h-1zM979 517h1v1h-1zM984 517h1v1h-1zM989 517h1v1h-1zM994 517h1v1h-1zM999 517h1v1h-1zM1004 517h1v1h-1zM1009 517h1v1h-1zM1014 517h1v1h-1zM1019 517h1v1h-1zM1024 517h1v1h-1zM1029 517h1v1h-1zM1034 517h1v1h-1zM1039 517h1v1h-1zM1044 517h1v1h-1zM1049 517h1v1h-1zM1054 517h1v1h-1zM1059 517h1v1h-1zM1064 517h1v1h-1zM1069 517h1v1h-1zM1074 517h1v1h-1zM1079 517h1v1h-1zM1084 517h1v1h-1z"/>
<rect x="684" y="493" width="1" height="68"/>
<rect x="684" y="560" width="403" height="1"/>
<rect x="721" y="555" width="1" height="5"/>
<rect x="815" y="555" width="1" height="5"/>
<rect x="908" y="555" width="1" height="5"/>
<rect x="1002" y="555" width="1" height="5"/>
<rect x="685" y="517" width="5" height="1"/>
<rect x="685" y="549" width="5" height="1"/>
</g>
<path fill="#00008f" shape-rendering="crispEdges" d="M684 560h1v1h-1zM685 559h1v1h-1zM686 559h1v1h-1zM687 559h1v1h-1zM688 558h1v2h-1zM689 557h1v1h-1zM690 557h1v1h-1zM691 557h1v1h-1zM692 556h1v1h-1zM693 556h1v1h-1zM694 555h1v1h-1zM695 554h1v1h-1zM696 554h1v1h-1zM697 553h1v1h-1zM698 553h1v1h-1zM699 552h1v1h-1zM700 552h1v1h-1zM701 552h1v1h-1zM702 551h1v1h-1zM703 551h1v1h-1zM704 551h1v2h-1zM705 550h1v1h-1zM706 549h1v1h-1zM707 548h1v1h-1zM708 549h1v1h-1zM709 548h1v1h-1zM710 549h1v1h-1zM711 547h1v2h-1zM712 546h1v2h-1zM713 548h1v1h-1zM714 546h1v2h-1zM715 545h1v1h-1zM716 545h1v1h-1zM717 545h1v1h-1zM718 545h1v2h-1zM719 544h1v1h-1zM720 544h1v1h-1zM721 544h1v1h-1zM722 544h1v2h-1zM723 543h1v1h-1zM724 543h1v1h-1zM725 543h1v1h-1zM726 542h1v1h-1zM727 541h1v1h-1zM728 541h1v2h-1zM729 540h1v1h-1zM730 541h1v1h-1zM731 541h1v2h-1zM732 539h1v2h-1zM733 538h1v1h-1zM734 539h1v1h-1zM735 539h1v1h-1zM736 538h1v2h-1zM737 537h1v1h-1zM738 536h1v1h-1zM739 537h1v1h-1zM740 537h1v1h-1zM741 536h1v1h-1zM742 536h1v1h-1zM743 535h1v1h-1zM744 535h1v1h-1zM745 535h1v1h-1zM746 534h1v3h-1zM747 532h1v2h-1zM748 534h1v1h-1zM749 534h1v1h-1zM750 532h1v2h-1zM751 531h1v2h-1zM752 532h1v2h-1zM753 531h1v1h-1zM754 531h1v1h-1zM755 531h1v1h-1zM756 531h1v2h-1zM757 530h1v1h-1zM758 531h1v1h-1zM759 531h1v1h-1zM760 530h1v1h-1zM761 529h1v1h-1zM762 528h1v2h-1zM763 527h1v1h-1zM764 527h1v1h-1zM765 528h1v1h-1zM766 527h1v1h-1zM767 527h1v1h-1zM768 526h1v1h-1zM769 526h1v1h-1zM770 526h1v1h-1zM771 525h1v1h-1zM772 524h1v1h-1zM773 524h1v1h-1zM774 524h1v1h-1zM775 523h1v2h-1zM776 522h1v2h-1zM777 524h1v1h-1zM778 523h1v1h-1zM779 523h1v1h-1zM780 523h1v1h-1zM781 523h1v1h-1zM782 523h1v2h-1zM783 522h1v1h-1zM784 522h1v1h-1zM785 522h1v1h-1zM786 522h1v1h-1zM787 522h1v1h-1zM788 522h1v1h-1zM789 522h1v1h-1zM790 521h1v2h-1zM791 521h1v3h-1zM792 519h1v2h-1zM793 519h1v1h-1zM794 519h1v1h-1zM795 520h1v1h-1zM796 518h1v2h-1zM797 517h1v1h-1zM798 517h1v1h-1zM799 515h1v2h-1zM800 514h1v2h-1zM801 516h1v1h-1zM802 516h1v1h-1zM803 514h1v2h-1zM804 513h1v1h-1zM805 512h1v2h-1zM806 514h1v1h-1zM807 513h1v1h-1zM808 513h1v1h-1zM809 512h1v2h-1zM810 510h1v2h-1zM811 510h1v1h-1zM812 511h1v1h-1zM813 509h1v2h-1zM814 507h1v2h-1zM815 506h1v1h-1zM816 507h1v2h-1zM817 509h1v2h-1zM818 510h1v1h-1zM819 509h1v1h-1zM820 509h1v2h-1zM821 508h1v3h-1zM822 511h1v2h-1zM823 512h1v1h-1zM824 510h1v3h-1zM825 508h1v2h-1zM826 510h1v2h-1zM827 512h1v1h-1zM828 510h1v2h-1zM829 509h1v1h-1zM830 509h1v1h-1zM831 509h1v1h-1zM832 508h1v1h-1zM833 507h1v1h-1zM834 507h1v2h-1zM835 505h1v2h-1zM836 507h1v1h-1zM837 507h1v1h-1zM838 507h1v1h-1zM839 506h1v1h-1zM840 507h1v1h-1zM841 506h1v1h-1zM842 506h1v1h-1zM843 505h1v1h-1zM844 504h1v3h-1zM845 502h1v2h-1zM846 503h1v1h-1zM847 503h1v1h-1zM848 502h1v2h-1zM849 504h1v1h-1zM850 503h1v1h-1zM851 502h1v1h-1zM852 502h1v1h-1zM853 503h1v1h-1zM854 503h1v2h-1zM855 505h1v1h-1zM856 506h1v1h-1zM857 507h1v2h-1zM858 508h1v2h-1zM859 507h1v3h-1zM860 509h1v3h-1zM861 507h1v2h-1zM862 507h1v1h-1zM863 507h1v1h-1zM864 506h1v2h-1zM865 505h1v1h-1zM866 503h1v2h-1zM867 502h1v1h-1zM868 502h1v2h-1zM869 500h1v2h-1zM870 500h1v1h-1zM871 500h1v1h-1zM872 500h1v1h-1zM873 500h1v1h-1zM874 499h1v1h-1zM875 498h1v2h-1zM876 500h1v2h-1zM877 501h1v2h-1zM878 499h1v2h-1zM879 498h1v2h-1zM880 500h1v1h-1zM881 499h1v1h-1zM882 497h1v2h-1zM883 496h1v2h-1zM884 498h1v2h-1zM885 499h1v1h-1zM886 497h1v2h-1zM887 496h1v1h-1zM888 496h1v1h-1zM889 496h1v2h-1zM890 494h1v2h-1zM891 494h1v1h-1zM892 495h1v1h-1zM893 495h1v1h-1zM894 494h1v2h-1zM895 496h1v1h-1zM896 496h1v1h-1zM897 497h1v1h-1zM898 497h1v2h-1zM899 498h1v3h-1zM900 496h1v2h-1zM901 496h1v1h-1zM902 495h1v3h-1zM903 498h1v2h-1zM904 497h1v1h-1zM905 497h1v1h-1zM906 496h1v1h-1zM907 497h1v1h-1zM908 497h1v1h-1zM909 496h1v1h-1zM910 495h1v1h-1zM911 494h1v2h-1zM912 496h1v1h-1zM913 495h1v1h-1zM914 496h1v1h-1zM915 495h1v1h-1zM916 494h1v2h-1zM917 496h1v3h-1zM918 499h1v1h-1zM919 498h1v1h-1zM920 498h1v1h-1zM921 498h1v1h-1zM922 499h1v1h-1zM923 499h1v1h-1zM924 500h1v1h-1zM925 501h1v1h-1zM926 501h1v2h-1zM927 499h1v2h-1zM928 500h1v2h-1zM929 499h1v1h-1zM930 497h1v2h-1zM931 496h1v2h-1zM932 498h1v2h-1zM933 496h1v2h-1zM934 498h1v2h-1zM935 496h1v2h-1zM936 495h1v1h-1zM937 495h1v1h-1zM938 495h1v1h-1zM939 495h1v1h-1zM940 494h1v2h-1zM941 495h1v2h-1zM942 493h1v2h-1zM943 494h1v1h-1zM944 495h1v2h-1zM945 495h1v3h-1zM946 493h1v4h-1zM947 497h1v3h-1zM948 498h1v1h-1zM949 499h1v2h-1zM950 501h1v1h-1zM951 501h1v1h-1zM952 502h1v1h-1zM953 502h1v1h-1zM954 501h1v1h-1zM955 500h1v1h-1zM956 501h1v1h-1zM957 501h1v2h-1zM958 499h1v2h-1zM959 499h1v1h-1zM960 498h1v2h-1zM961 497h1v1h-1zM962 497h1v2h-1zM963 499h1v2h-1zM964 500h1v1h-1zM965 500h1v1h-1zM966 500h1v2h-1zM967 502h1v2h-1zM968 500h1v2h-1zM969 501h1v1h-1zM970 500h1v3h-1zM971 498h1v3h-1zM972 501h1v2h-1zM973 500h1v1h-1zM974 499h1v1h-1zM975 498h1v2h-1zM976 500h1v1h-1zM977 500h1v1h-1zM978 499h1v1h-1zM979 498h1v2h-1zM980 500h1v2h-1zM981 499h1v2h-1zM982 498h1v1h-1zM983 498h1v1h-1zM984 498h1v2h-1zM985 500h1v3h-1zM986 503h1v3h-1zM987 506h1v1h-1zM988 506h1v1h-1zM989 506h1v2h-1zM990 504h1v2h-1zM991 503h1v1h-1zM992 503h1v1h-1zM993 502h1v1h-1zM994 501h1v2h-1zM995 503h1v1h-1zM996 504h1v1h-1zM997 504h1v2h-1zM998 502h1v2h-1zM999 501h1v1h-1zM1000 502h1v2h-1zM1001 503h1v2h-1zM1002 501h1v2h-1zM1003 502h1v2h-1zM1004 504h1v1h-1zM1005 504h1v1h-1zM1006 504h1v1h-1zM1007 505h1v1h-1zM1008 505h1v1h-1zM1009 505h1v1h-1zM1010 505h1v2h-1zM1011 507h1v1h-1zM1012 507h1v1h-1zM1013 508h1v1h-1zM1014 508h1v1h-1zM1015 509h1v2h-1zM1016 511h1v1h-1zM1017 510h1v1h-1zM1018 509h1v1h-1zM1019 509h1v1h-1zM1020 509h1v1h-1zM1021 510h1v1h-1zM1022 510h1v1h-1zM1023 509h1v1h-1zM1024 509h1v1h-1zM1025 509h1v1h-1zM1026 508h1v1h-1zM1027 508h1v1h-1zM1028 508h1v1h-1zM1029 508h1v1h-1zM1030 508h1v1h-1zM1031 509h1v1h-1zM1032 510h1v1h-1zM1033 511h1v1h-1zM1034 511h1v2h-1zM1035 513h1v2h-1zM1036 515h1v1h-1zM1037 515h1v1h-1zM1038 515h1v1h-1zM1039 514h1v1h-1zM1040 513h1v4h-1zM1041 517h1v3h-1zM1042 519h1v1h-1zM1043 519h1v1h-1zM1044 520h1v1h-1zM1045 521h1v1h-1zM1046 521h1v1h-1zM1047 519h1v2h-1zM1048 517h1v2h-1zM1049 516h1v3h-1zM1050 519h1v2h-1zM1051 520h1v1h-1zM1052 518h1v2h-1zM1053 516h1v2h-1zM1054 516h1v1h-1zM1055 517h1v1h-1zM1056 518h1v2h-1zM1057 519h1v2h-1zM1058 518h1v2h-1zM1059 520h1v1h-1zM1060 520h1v1h-1zM1061 519h1v1h-1zM1062 518h1v2h-1zM1063 520h1v1h-1zM1064 520h1v2h-1zM1065 522h1v1h-1zM1066 522h1v1h-1zM1067 521h1v1h-1zM1068 521h1v1h-1zM1069 520h1v1h-1zM1070 521h1v1h-1zM1071 522h1v2h-1zM1072 523h1v2h-1zM1073 522h1v1h-1zM1074 523h1v1h-1zM1075 524h1v1h-1zM1076 523h1v1h-1zM1077 522h1v2h-1zM1078 524h1v2h-1zM1079 526h1v1h-1zM1080 525h1v1h-1zM1081 525h1v1h-1zM1082 524h1v2h-1zM1083 522h1v2h-1zM1084 520h1v2h-1zM1085 521h1v1h-1zM1086 522h1v1h-1z"/>
<text transform="translate(720.60,596.10) scale(0.94,1)" font-size="24.5" text-anchor="middle">2505</text>
<text transform="translate(814.60,596.10) scale(0.94,1)" font-size="24.5" text-anchor="middle">2510</text>
<text transform="translate(907.60,596.10) scale(0.94,1)" font-size="24.5" text-anchor="middle">2515</text>
<text transform="translate(1001.60,596.10) scale(0.94,1)" font-size="24.5" text-anchor="middle">2520</text>
<text transform="translate(678.00,528.90) scale(0.94,1)" font-size="24.5" text-anchor="end">40</text>
<text transform="translate(678.00,560.90) scale(0.94,1)" font-size="24.5" text-anchor="end">20</text>
<text transform="translate(884.00,472.70) scale(0.905,1)" font-size="27.2" text-anchor="middle">Bin 6</text>
<text transform="translate(778.00,633.80) scale(0.887,1)" font-size="27.2" text-anchor="start">Wavenumber [cm<tspan x="213.75" dy="-12.6" font-size="16.5">-</tspan><tspan x="221.53" dy="-0.3" font-size="16.5">1</tspan><tspan x="232.47" dy="12.9">]</tspan></text>
<text transform="translate(638.00,528.00) rotate(-90) scale(0.887,1)" font-size="27.2" text-anchor="middle">ADU</text>
<g shape-rendering="crispEdges" fill="#000">
<path d="M193 752h1v1h-1zM193 747h1v1h-1zM193 742h1v1h-1zM193 737h1v1h-1zM193 732h1v1h-1zM193 727h1v1h-1zM193 722h1v1h-1zM193 717h1v1h-1zM193 712h1v1h-1zM193 707h1v1h-1zM193 702h1v1h-1zM193 697h1v1h-1zM193 692h1v1h-1zM287 754h1v1h-1zM287 749h1v1h-1zM287 744h1v1h-1zM287 739h1v1h-1zM287 734h1v1h-1zM287 729h1v1h-1zM287 724h1v1h-1zM287 719h1v1h-1zM287 714h1v1h-1zM287 709h1v1h-1zM287 704h1v1h-1zM287 699h1v1h-1zM287 694h1v1h-1zM380 756h1v1h-1zM380 751h1v1h-1zM380 746h1v1h-1zM380 741h1v1h-1zM380 736h1v1h-1zM380 731h1v1h-1zM380 726h1v1h-1zM380 721h1v1h-1zM380 716h1v1h-1zM380 711h1v1h-1zM380 706h1v1h-1zM380 701h1v1h-1zM380 696h1v1h-1zM380 691h1v1h-1zM474 753h1v1h-1zM474 748h1v1h-1zM474 743h1v1h-1zM474 738h1v1h-1zM474 733h1v1h-1zM474 728h1v1h-1zM474 723h1v1h-1zM474 718h1v1h-1zM474 713h1v1h-1zM474 708h1v1h-1zM474 703h1v1h-1zM474 698h1v1h-1zM474 693h1v1h-1zM158 745h1v1h-1zM163 745h1v1h-1zM168 745h1v1h-1zM173 745h1v1h-1zM178 745h1v1h-1zM183 745h1v1h-1zM188 745h1v1h-1zM193 745h1v1h-1zM198 745h1v1h-1zM203 745h1v1h-1zM208 745h1v1h-1zM213 745h1v1h-1zM218 745h1v1h-1zM223 745h1v1h-1zM228 745h1v1h-1zM233 745h1v1h-1zM238 745h1v1h-1zM243 745h1v1h-1zM248 745h1v1h-1zM253 745h1v1h-1zM258 745h1v1h-1zM263 745h1v1h-1zM268 745h1v1h-1zM273 745h1v1h-1zM278 745h1v1h-1zM283 745h1v1h-1zM288 745h1v1h-1zM293 745h1v1h-1zM298 745h1v1h-1zM303 745h1v1h-1zM308 745h1v1h-1zM313 745h1v1h-1zM318 745h1v1h-1zM323 745h1v1h-1zM328 745h1v1h-1zM333 745h1v1h-1zM338 745h1v1h-1zM343 745h1v1h-1zM348 745h1v1h-1zM353 745h1v1h-1zM358 745h1v1h-1zM363 745h1v1h-1zM368 745h1v1h-1zM373 745h1v1h-1zM378 745h1v1h-1zM383 745h1v1h-1zM388 745h1v1h-1zM393 745h1v1h-1zM398 745h1v1h-1zM403 745h1v1h-1zM408 745h1v1h-1zM413 745h1v1h-1zM418 745h1v1h-1zM423 745h1v1h-1zM428 745h1v1h-1zM433 745h1v1h-1zM438 745h1v1h-1zM443 745h1v1h-1zM448 745h1v1h-1zM453 745h1v1h-1zM458 745h1v1h-1zM463 745h1v1h-1zM468 745h1v1h-1zM473 745h1v1h-1zM478 745h1v1h-1zM483 745h1v1h-1zM488 745h1v1h-1zM493 745h1v1h-1zM498 745h1v1h-1zM503 745h1v1h-1zM508 745h1v1h-1zM513 745h1v1h-1zM518 745h1v1h-1zM523 745h1v1h-1zM528 745h1v1h-1zM533 745h1v1h-1zM538 745h1v1h-1zM543 745h1v1h-1zM548 745h1v1h-1zM553 745h1v1h-1zM558 745h1v1h-1zM161 709h1v1h-1zM166 709h1v1h-1zM171 709h1v1h-1zM176 709h1v1h-1zM181 709h1v1h-1zM186 709h1v1h-1zM191 709h1v1h-1zM196 709h1v1h-1zM201 709h1v1h-1zM206 709h1v1h-1zM211 709h1v1h-1zM216 709h1v1h-1zM221 709h1v1h-1zM226 709h1v1h-1zM231 709h1v1h-1zM236 709h1v1h-1zM241 709h1v1h-1zM246 709h1v1h-1zM251 709h1v1h-1zM256 709h1v1h-1zM261 709h1v1h-1zM266 709h1v1h-1zM271 709h1v1h-1zM276 709h1v1h-1zM281 709h1v1h-1zM286 709h1v1h-1zM291 709h1v1h-1zM296 709h1v1h-1zM301 709h1v1h-1zM306 709h1v1h-1zM311 709h1v1h-1zM316 709h1v1h-1zM321 709h1v1h-1zM326 709h1v1h-1zM331 709h1v1h-1zM336 709h1v1h-1zM341 709h1v1h-1zM346 709h1v1h-1zM351 709h1v1h-1zM356 709h1v1h-1zM361 709h1v1h-1zM366 709h1v1h-1zM371 709h1v1h-1zM376 709h1v1h-1zM381 709h1v1h-1zM386 709h1v1h-1zM391 709h1v1h-1zM396 709h1v1h-1zM401 709h1v1h-1zM406 709h1v1h-1zM411 709h1v1h-1zM416 709h1v1h-1zM421 709h1v1h-1zM426 709h1v1h-1zM431 709h1v1h-1zM436 709h1v1h-1zM441 709h1v1h-1zM446 709h1v1h-1zM451 709h1v1h-1zM456 709h1v1h-1zM461 709h1v1h-1zM466 709h1v1h-1zM471 709h1v1h-1zM476 709h1v1h-1zM481 709h1v1h-1zM486 709h1v1h-1zM491 709h1v1h-1zM496 709h1v1h-1zM501 709h1v1h-1zM506 709h1v1h-1zM511 709h1v1h-1zM516 709h1v1h-1zM521 709h1v1h-1zM526 709h1v1h-1zM531 709h1v1h-1zM536 709h1v1h-1zM541 709h1v1h-1zM546 709h1v1h-1zM551 709h1v1h-1zM556 709h1v1h-1z"/>
<rect x="156" y="690" width="1" height="68"/>
<rect x="156" y="757" width="403" height="1"/>
<rect x="193" y="752" width="1" height="5"/>
<rect x="287" y="752" width="1" height="5"/>
<rect x="380" y="752" width="1" height="5"/>
<rect x="474" y="752" width="1" height="5"/>
<rect x="157" y="709" width="5" height="1"/>
<rect x="157" y="745" width="5" height="1"/>
</g>
<path fill="#00008f" shape-rendering="crispEdges" d="M156 757h1v1h-1zM157 757h1v1h-1zM158 756h1v1h-1zM159 755h1v1h-1zM160 754h1v1h-1zM161 754h1v1h-1zM162 754h1v1h-1zM163 753h1v1h-1zM164 752h1v1h-1zM165 753h1v1h-1zM166 753h1v2h-1zM167 751h1v2h-1zM168 751h1v1h-1zM169 750h1v1h-1zM170 750h1v1h-1zM171 750h1v1h-1zM172 750h1v1h-1zM173 750h1v1h-1zM174 749h1v1h-1zM175 748h1v1h-1zM176 748h1v1h-1zM177 749h1v1h-1zM178 747h1v2h-1zM179 746h1v2h-1zM180 748h1v1h-1zM181 746h1v2h-1zM182 744h1v2h-1zM183 744h1v1h-1zM184 744h1v2h-1zM185 745h1v2h-1zM186 744h1v1h-1zM187 743h1v1h-1zM188 743h1v1h-1zM189 744h1v1h-1zM190 743h1v2h-1zM191 742h1v1h-1zM192 743h1v1h-1zM193 743h1v2h-1zM194 742h1v1h-1zM195 741h1v2h-1zM196 740h1v1h-1zM197 740h1v1h-1zM198 740h1v1h-1zM199 739h1v1h-1zM200 738h1v1h-1zM201 737h1v1h-1zM202 737h1v1h-1zM203 737h1v1h-1zM204 736h1v1h-1zM205 736h1v2h-1zM206 734h1v2h-1zM207 734h1v1h-1zM208 735h1v1h-1zM209 734h1v2h-1zM210 733h1v1h-1zM211 733h1v1h-1zM212 733h1v1h-1zM213 732h1v1h-1zM214 731h1v1h-1zM215 732h1v1h-1zM216 731h1v1h-1zM217 731h1v1h-1zM218 732h1v1h-1zM219 731h1v1h-1zM220 730h1v1h-1zM221 730h1v1h-1zM222 729h1v1h-1zM223 728h1v1h-1zM224 729h1v1h-1zM225 728h1v1h-1zM226 729h1v1h-1zM227 728h1v1h-1zM228 727h1v1h-1zM229 727h1v1h-1zM230 727h1v1h-1zM231 726h1v1h-1zM232 725h1v2h-1zM233 727h1v1h-1zM234 725h1v2h-1zM235 724h1v1h-1zM236 724h1v1h-1zM237 724h1v1h-1zM238 724h1v1h-1zM239 724h1v1h-1zM240 723h1v1h-1zM241 723h1v1h-1zM242 723h1v1h-1zM243 722h1v1h-1zM244 721h1v1h-1zM245 720h1v1h-1zM246 720h1v1h-1zM247 720h1v2h-1zM248 719h1v1h-1zM249 720h1v1h-1zM250 719h1v1h-1zM251 719h1v1h-1zM252 719h1v1h-1zM253 718h1v1h-1zM254 717h1v2h-1zM255 719h1v1h-1zM256 719h1v1h-1zM257 718h1v1h-1zM258 717h1v1h-1zM259 718h1v1h-1zM260 717h1v1h-1zM261 717h1v1h-1zM262 718h1v1h-1zM263 717h1v1h-1zM264 718h1v1h-1zM265 717h1v1h-1zM266 716h1v1h-1zM267 716h1v1h-1zM268 716h1v2h-1zM269 715h1v1h-1zM270 715h1v1h-1zM271 715h1v1h-1zM272 714h1v2h-1zM273 712h1v2h-1zM274 711h1v1h-1zM275 711h1v1h-1zM276 711h1v2h-1zM277 713h1v1h-1zM278 712h1v1h-1zM279 711h1v1h-1zM280 710h1v1h-1zM281 708h1v2h-1zM282 707h1v2h-1zM283 709h1v1h-1zM284 709h1v1h-1zM285 708h1v1h-1zM286 707h1v1h-1zM287 705h1v2h-1zM288 703h1v2h-1zM289 705h1v2h-1zM290 706h1v1h-1zM291 705h1v1h-1zM292 705h1v1h-1zM293 704h1v1h-1zM294 704h1v1h-1zM295 703h1v1h-1zM296 702h1v2h-1zM297 704h1v2h-1zM298 705h1v1h-1zM299 705h1v2h-1zM300 703h1v2h-1zM301 702h1v3h-1zM302 705h1v2h-1zM303 704h1v1h-1zM304 704h1v1h-1zM305 704h1v1h-1zM306 703h1v1h-1zM307 704h1v1h-1zM308 704h1v1h-1zM309 703h1v1h-1zM310 702h1v1h-1zM311 703h1v1h-1zM312 702h1v1h-1zM313 702h1v1h-1zM314 702h1v1h-1zM315 702h1v1h-1zM316 702h1v1h-1zM317 702h1v1h-1zM318 701h1v1h-1zM319 700h1v1h-1zM320 699h1v2h-1zM321 701h1v2h-1zM322 698h1v3h-1zM323 697h1v1h-1zM324 698h1v1h-1zM325 699h1v2h-1zM326 701h1v2h-1zM327 701h1v2h-1zM328 703h1v1h-1zM329 701h1v2h-1zM330 700h1v2h-1zM331 702h1v2h-1zM332 701h1v1h-1zM333 701h1v1h-1zM334 701h1v1h-1zM335 702h1v1h-1zM336 701h1v1h-1zM337 700h1v1h-1zM338 700h1v1h-1zM339 699h1v1h-1zM340 697h1v3h-1zM341 695h1v2h-1zM342 697h1v2h-1zM343 697h1v1h-1zM344 696h1v2h-1zM345 697h1v2h-1zM346 696h1v2h-1zM347 698h1v2h-1zM348 695h1v3h-1zM349 693h1v2h-1zM350 695h1v2h-1zM351 697h1v1h-1zM352 698h1v1h-1zM353 697h1v1h-1zM354 694h1v3h-1zM355 692h1v2h-1zM356 692h1v1h-1zM357 692h1v2h-1zM358 694h1v2h-1zM359 696h1v2h-1zM360 697h1v2h-1zM361 696h1v1h-1zM362 697h1v1h-1zM363 697h1v1h-1zM364 696h1v2h-1zM365 695h1v1h-1zM366 693h1v2h-1zM367 692h1v1h-1zM368 692h1v1h-1zM369 693h1v1h-1zM370 692h1v1h-1zM371 692h1v1h-1zM372 691h1v1h-1zM373 692h1v1h-1zM374 692h1v2h-1zM375 691h1v1h-1zM376 690h1v1h-1zM377 690h1v1h-1zM378 690h1v2h-1zM379 692h1v2h-1zM380 692h1v1h-1zM381 692h1v1h-1zM382 692h1v1h-1zM383 693h1v1h-1zM384 692h1v1h-1zM385 691h1v1h-1zM386 690h1v1h-1zM387 690h1v1h-1zM388 690h1v1h-1zM389 690h1v1h-1zM390 691h1v1h-1zM391 691h1v1h-1zM392 692h1v1h-1zM393 693h1v1h-1zM394 693h1v1h-1zM395 692h1v2h-1zM396 694h1v1h-1zM397 694h1v1h-1zM398 695h1v1h-1zM399 695h1v2h-1zM400 697h1v1h-1zM401 696h1v2h-1zM402 694h1v2h-1zM403 692h1v2h-1zM404 692h1v2h-1zM405 694h1v1h-1zM406 694h1v1h-1zM407 692h1v2h-1zM408 691h1v1h-1zM409 691h1v1h-1zM410 690h1v1h-1zM411 691h1v2h-1zM412 693h1v1h-1zM413 693h1v2h-1zM414 694h1v2h-1zM415 693h1v1h-1zM416 693h1v1h-1zM417 692h1v2h-1zM418 693h1v2h-1zM419 691h1v3h-1zM420 694h1v2h-1zM421 693h1v2h-1zM422 692h1v3h-1zM423 695h1v2h-1zM424 696h1v1h-1zM425 697h1v1h-1zM426 697h1v1h-1zM427 697h1v1h-1zM428 698h1v1h-1zM429 699h1v1h-1zM430 700h1v1h-1zM431 699h1v1h-1zM432 698h1v1h-1zM433 697h1v1h-1zM434 695h1v3h-1zM435 693h1v2h-1zM436 695h1v2h-1zM437 697h1v1h-1zM438 696h1v1h-1zM439 697h1v1h-1zM440 698h1v1h-1zM441 698h1v1h-1zM442 698h1v1h-1zM443 698h1v1h-1zM444 699h1v1h-1zM445 700h1v1h-1zM446 699h1v1h-1zM447 698h1v2h-1zM448 700h1v1h-1zM449 700h1v1h-1zM450 701h1v1h-1zM451 700h1v3h-1zM452 698h1v2h-1zM453 697h1v1h-1zM454 697h1v1h-1zM455 696h1v1h-1zM456 695h1v1h-1zM457 695h1v3h-1zM458 698h1v3h-1zM459 698h1v1h-1zM460 698h1v1h-1zM461 699h1v3h-1zM462 702h1v2h-1zM463 703h1v2h-1zM464 705h1v1h-1zM465 706h1v1h-1zM466 706h1v2h-1zM467 704h1v2h-1zM468 705h1v3h-1zM469 703h1v2h-1zM470 704h1v1h-1zM471 704h1v2h-1zM472 703h1v2h-1zM473 705h1v1h-1zM474 704h1v1h-1zM475 704h1v1h-1zM476 703h1v3h-1zM477 701h1v2h-1zM478 701h1v1h-1zM479 702h1v1h-1zM480 702h1v1h-1zM481 703h1v1h-1zM482 703h1v2h-1zM483 704h1v2h-1zM484 701h1v3h-1zM485 699h1v3h-1zM486 702h1v3h-1zM487 703h1v2h-1zM488 705h1v1h-1zM489 703h1v2h-1zM490 702h1v3h-1zM491 704h1v3h-1zM492 702h1v2h-1zM493 704h1v1h-1zM494 704h1v1h-1zM495 705h1v1h-1zM496 705h1v3h-1zM497 708h1v2h-1zM498 707h1v1h-1zM499 707h1v1h-1zM500 706h1v3h-1zM501 709h1v2h-1zM502 709h1v2h-1zM503 711h1v2h-1zM504 712h1v1h-1zM505 713h1v1h-1zM506 712h1v2h-1zM507 711h1v1h-1zM508 710h1v1h-1zM509 710h1v1h-1zM510 710h1v1h-1zM511 709h1v1h-1zM512 708h1v1h-1zM513 709h1v1h-1zM514 709h1v1h-1zM515 710h1v4h-1zM516 714h1v5h-1zM517 719h1v3h-1zM518 719h1v1h-1zM519 719h1v1h-1zM520 718h1v1h-1zM521 717h1v1h-1zM522 717h1v1h-1zM523 715h1v2h-1zM524 714h1v1h-1zM525 714h1v2h-1zM526 712h1v2h-1zM527 714h1v1h-1zM528 714h1v1h-1zM529 715h1v2h-1zM530 716h1v2h-1zM531 714h1v3h-1zM532 717h1v3h-1zM533 718h1v1h-1zM534 717h1v2h-1zM535 718h1v2h-1zM536 716h1v2h-1zM537 715h1v1h-1zM538 716h1v2h-1zM539 718h1v1h-1zM540 717h1v1h-1zM541 718h1v1h-1zM542 718h1v1h-1zM543 719h1v2h-1zM544 721h1v1h-1zM545 721h1v1h-1zM546 721h1v1h-1zM547 722h1v1h-1zM548 722h1v1h-1zM549 722h1v1h-1zM550 721h1v2h-1zM551 723h1v1h-1zM552 722h1v1h-1zM553 722h1v1h-1zM554 721h1v1h-1zM555 721h1v2h-1zM556 723h1v2h-1zM557 723h1v1h-1zM558 722h1v1h-1z"/>
<text transform="translate(192.60,793.10) scale(0.94,1)" font-size="24.5" text-anchor="middle">2505</text>
<text transform="translate(286.60,793.10) scale(0.94,1)" font-size="24.5" text-anchor="middle">2510</text>
<text transform="translate(379.60,793.10) scale(0.94,1)" font-size="24.5" text-anchor="middle">2515</text>
<text transform="translate(473.60,793.10) scale(0.94,1)" font-size="24.5" text-anchor="middle">2520</text>
<text transform="translate(150.00,720.90) scale(0.94,1)" font-size="24.5" text-anchor="end">40</text>
<text transform="translate(150.00,756.90) scale(0.94,1)" font-size="24.5" text-anchor="end">20</text>
<text transform="translate(356.00,669.70) scale(0.905,1)" font-size="27.2" text-anchor="middle">Bin 7</text>
<text transform="translate(250.00,830.80) scale(0.887,1)" font-size="27.2" text-anchor="start">Wavenumber [cm<tspan x="213.75" dy="-12.6" font-size="16.5">-</tspan><tspan x="221.53" dy="-0.3" font-size="16.5">1</tspan><tspan x="232.47" dy="12.9">]</tspan></text>
<text transform="translate(110.00,725.00) rotate(-90) scale(0.887,1)" font-size="27.2" text-anchor="middle">ADU</text>
<g shape-rendering="crispEdges" fill="#000">
<path d="M721 752h1v1h-1zM721 747h1v1h-1zM721 742h1v1h-1zM721 737h1v1h-1zM721 732h1v1h-1zM721 727h1v1h-1zM721 722h1v1h-1zM721 717h1v1h-1zM721 712h1v1h-1zM721 707h1v1h-1zM721 702h1v1h-1zM721 697h1v1h-1zM721 692h1v1h-1zM815 754h1v1h-1zM815 749h1v1h-1zM815 744h1v1h-1zM815 739h1v1h-1zM815 734h1v1h-1zM815 729h1v1h-1zM815 724h1v1h-1zM815 719h1v1h-1zM815 714h1v1h-1zM815 709h1v1h-1zM815 704h1v1h-1zM815 699h1v1h-1zM815 694h1v1h-1zM908 756h1v1h-1zM908 751h1v1h-1zM908 746h1v1h-1zM908 741h1v1h-1zM908 736h1v1h-1zM908 731h1v1h-1zM908 726h1v1h-1zM908 721h1v1h-1zM908 716h1v1h-1zM908 711h1v1h-1zM908 706h1v1h-1zM908 701h1v1h-1zM908 696h1v1h-1zM908 691h1v1h-1zM1002 753h1v1h-1zM1002 748h1v1h-1zM1002 743h1v1h-1zM1002 738h1v1h-1zM1002 733h1v1h-1zM1002 728h1v1h-1zM1002 723h1v1h-1zM1002 718h1v1h-1zM1002 713h1v1h-1zM1002 708h1v1h-1zM1002 703h1v1h-1zM1002 698h1v1h-1zM1002 693h1v1h-1zM686 741h1v1h-1zM691 741h1v1h-1zM696 741h1v1h-1zM701 741h1v1h-1zM706 741h1v1h-1zM711 741h1v1h-1zM716 741h1v1h-1zM721 741h1v1h-1zM726 741h1v1h-1zM731 741h1v1h-1zM736 741h1v1h-1zM741 741h1v1h-1zM746 741h1v1h-1zM751 741h1v1h-1zM756 741h1v1h-1zM761 741h1v1h-1zM766 741h1v1h-1zM771 741h1v1h-1zM776 741h1v1h-1zM781 741h1v1h-1zM786 741h1v1h-1zM791 741h1v1h-1zM796 741h1v1h-1zM801 741h1v1h-1zM806 741h1v1h-1zM811 741h1v1h-1zM816 741h1v1h-1zM821 741h1v1h-1zM826 741h1v1h-1zM831 741h1v1h-1zM836 741h1v1h-1zM841 741h1v1h-1zM846 741h1v1h-1zM851 741h1v1h-1zM856 741h1v1h-1zM861 741h1v1h-1zM866 741h1v1h-1zM871 741h1v1h-1zM876 741h1v1h-1zM881 741h1v1h-1zM886 741h1v1h-1zM891 741h1v1h-1zM896 741h1v1h-1zM901 741h1v1h-1zM906 741h1v1h-1zM911 741h1v1h-1zM916 741h1v1h-1zM921 741h1v1h-1zM926 741h1v1h-1zM931 741h1v1h-1zM936 741h1v1h-1zM941 741h1v1h-1zM946 741h1v1h-1zM951 741h1v1h-1zM956 741h1v1h-1zM961 741h1v1h-1zM966 741h1v1h-1zM971 741h1v1h-1zM976 741h1v1h-1zM981 741h1v1h-1zM986 741h1v1h-1zM991 741h1v1h-1zM996 741h1v1h-1zM1001 741h1v1h-1zM1006 741h1v1h-1zM1011 741h1v1h-1zM1016 741h1v1h-1zM1021 741h1v1h-1zM1026 741h1v1h-1zM1031 741h1v1h-1zM1036 741h1v1h-1zM1041 741h1v1h-1zM1046 741h1v1h-1zM1051 741h1v1h-1zM1056 741h1v1h-1zM1061 741h1v1h-1zM1066 741h1v1h-1zM1071 741h1v1h-1zM1076 741h1v1h-1zM1081 741h1v1h-1zM1086 741h1v1h-1zM689 722h1v1h-1zM694 722h1v1h-1zM699 722h1v1h-1zM704 722h1v1h-1zM709 722h1v1h-1zM714 722h1v1h-1zM719 722h1v1h-1zM724 722h1v1h-1zM729 722h1v1h-1zM734 722h1v1h-1zM739 722h1v1h-1zM744 722h1v1h-1zM749 722h1v1h-1zM754 722h1v1h-1zM759 722h1v1h-1zM764 722h1v1h-1zM769 722h1v1h-1zM774 722h1v1h-1zM779 722h1v1h-1zM784 722h1v1h-1zM789 722h1v1h-1zM794 722h1v1h-1zM799 722h1v1h-1zM804 722h1v1h-1zM809 722h1v1h-1zM814 722h1v1h-1zM819 722h1v1h-1zM824 722h1v1h-1zM829 722h1v1h-1zM834 722h1v1h-1zM839 722h1v1h-1zM844 722h1v1h-1zM849 722h1v1h-1zM854 722h1v1h-1zM859 722h1v1h-1zM864 722h1v1h-1zM869 722h1v1h-1zM874 722h1v1h-1zM879 722h1v1h-1zM884 722h1v1h-1zM889 722h1v1h-1zM894 722h1v1h-1zM899 722h1v1h-1zM904 722h1v1h-1zM909 722h1v1h-1zM914 722h1v1h-1zM919 722h1v1h-1zM924 722h1v1h-1zM929 722h1v1h-1zM934 722h1v1h-1zM939 722h1v1h-1zM944 722h1v1h-1zM949 722h1v1h-1zM954 722h1v1h-1zM959 722h1v1h-1zM964 722h1v1h-1zM969 722h1v1h-1zM974 722h1v1h-1zM979 722h1v1h-1zM984 722h1v1h-1zM989 722h1v1h-1zM994 722h1v1h-1zM999 722h1v1h-1zM1004 722h1v1h-1zM1009 722h1v1h-1zM1014 722h1v1h-1zM1019 722h1v1h-1zM1024 722h1v1h-1zM1029 722h1v1h-1zM1034 722h1v1h-1zM1039 722h1v1h-1zM1044 722h1v1h-1zM1049 722h1v1h-1zM1054 722h1v1h-1zM1059 722h1v1h-1zM1064 722h1v1h-1zM1069 722h1v1h-1zM1074 722h1v1h-1zM1079 722h1v1h-1zM1084 722h1v1h-1zM687 702h1v1h-1zM692 702h1v1h-1zM697 702h1v1h-1zM702 702h1v1h-1zM707 702h1v1h-1zM712 702h1v1h-1zM717 702h1v1h-1zM722 702h1v1h-1zM727 702h1v1h-1zM732 702h1v1h-1zM737 702h1v1h-1zM742 702h1v1h-1zM747 702h1v1h-1zM752 702h1v1h-1zM757 702h1v1h-1zM762 702h1v1h-1zM767 702h1v1h-1zM772 702h1v1h-1zM777 702h1v1h-1zM782 702h1v1h-1zM787 702h1v1h-1zM792 702h1v1h-1zM797 702h1v1h-1zM802 702h1v1h-1zM807 702h1v1h-1zM812 702h1v1h-1zM817 702h1v1h-1zM822 702h1v1h-1zM827 702h1v1h-1zM832 702h1v1h-1zM837 702h1v1h-1zM842 702h1v1h-1zM847 702h1v1h-1zM852 702h1v1h-1zM857 702h1v1h-1zM862 702h1v1h-1zM867 702h1v1h-1zM872 702h1v1h-1zM877 702h1v1h-1zM882 702h1v1h-1zM887 702h1v1h-1zM892 702h1v1h-1zM897 702h1v1h-1zM902 702h1v1h-1zM907 702h1v1h-1zM912 702h1v1h-1zM917 702h1v1h-1zM922 702h1v1h-1zM927 702h1v1h-1zM932 702h1v1h-1zM937 702h1v1h-1zM942 702h1v1h-1zM947 702h1v1h-1zM952 702h1v1h-1zM957 702h1v1h-1zM962 702h1v1h-1zM967 702h1v1h-1zM972 702h1v1h-1zM977 702h1v1h-1zM982 702h1v1h-1zM987 702h1v1h-1zM992 702h1v1h-1zM997 702h1v1h-1zM1002 702h1v1h-1zM1007 702h1v1h-1zM1012 702h1v1h-1zM1017 702h1v1h-1zM1022 702h1v1h-1zM1027 702h1v1h-1zM1032 702h1v1h-1zM1037 702h1v1h-1zM1042 702h1v1h-1zM1047 702h1v1h-1zM1052 702h1v1h-1zM1057 702h1v1h-1zM1062 702h1v1h-1zM1067 702h1v1h-1zM1072 702h1v1h-1zM1077 702h1v1h-1zM1082 702h1v1h-1z"/>
<rect x="684" y="690" width="1" height="68"/>
<rect x="684" y="757" width="403" height="1"/>
<rect x="721" y="752" width="1" height="5"/>
<rect x="815" y="752" width="1" height="5"/>
<rect x="908" y="752" width="1" height="5"/>
<rect x="1002" y="752" width="1" height="5"/>
<rect x="685" y="702" width="5" height="1"/>
<rect x="685" y="722" width="5" height="1"/>
<rect x="685" y="741" width="5" height="1"/>
</g>
<path fill="#00008f" shape-rendering="crispEdges" d="M684 756h1v2h-1zM685 755h1v1h-1zM686 755h1v1h-1zM687 756h1v1h-1zM688 755h1v1h-1zM689 755h1v1h-1zM690 754h1v1h-1zM691 754h1v1h-1zM692 753h1v1h-1zM693 752h1v1h-1zM694 751h1v1h-1zM695 752h1v1h-1zM696 751h1v1h-1zM697 750h1v1h-1zM698 751h1v1h-1zM699 750h1v1h-1zM700 750h1v1h-1zM701 750h1v1h-1zM702 749h1v1h-1zM703 748h1v1h-1zM704 748h1v1h-1zM705 747h1v1h-1zM706 747h1v1h-1zM707 747h1v1h-1zM708 746h1v1h-1zM709 746h1v1h-1zM710 745h1v1h-1zM711 745h1v1h-1zM712 745h1v1h-1zM713 744h1v1h-1zM714 743h1v1h-1zM715 743h1v1h-1zM716 743h1v1h-1zM717 743h1v1h-1zM718 742h1v1h-1zM719 743h1v1h-1zM720 741h1v2h-1zM721 740h1v1h-1zM722 737h1v3h-1zM723 735h1v2h-1zM724 737h1v2h-1zM725 738h1v1h-1zM726 737h1v1h-1zM727 738h1v1h-1zM728 738h1v1h-1zM729 739h1v1h-1zM730 739h1v1h-1zM731 738h1v1h-1zM732 737h1v1h-1zM733 737h1v1h-1zM734 737h1v1h-1zM735 737h1v1h-1zM736 736h1v1h-1zM737 737h1v1h-1zM738 736h1v1h-1zM739 736h1v1h-1zM740 736h1v1h-1zM741 736h1v1h-1zM742 734h1v2h-1zM743 733h1v2h-1zM744 733h1v3h-1zM745 729h1v4h-1zM746 726h1v3h-1zM747 728h1v1h-1zM748 728h1v2h-1zM749 730h1v2h-1zM750 732h1v1h-1zM751 732h1v2h-1zM752 730h1v2h-1zM753 731h1v1h-1zM754 730h1v1h-1zM755 730h1v1h-1zM756 729h1v1h-1zM757 729h1v1h-1zM758 728h1v1h-1zM759 728h1v1h-1zM760 726h1v2h-1zM761 725h1v1h-1zM762 726h1v1h-1zM763 725h1v1h-1zM764 726h1v1h-1zM765 725h1v3h-1zM766 722h1v3h-1zM767 723h1v1h-1zM768 723h1v1h-1zM769 723h1v1h-1zM770 722h1v2h-1zM771 721h1v1h-1zM772 722h1v1h-1zM773 722h1v1h-1zM774 722h1v1h-1zM775 721h1v1h-1zM776 720h1v1h-1zM777 719h1v1h-1zM778 720h1v1h-1zM779 720h1v1h-1zM780 720h1v1h-1zM781 720h1v1h-1zM782 719h1v3h-1zM783 717h1v2h-1zM784 719h1v2h-1zM785 720h1v2h-1zM786 717h1v3h-1zM787 716h1v1h-1zM788 717h1v1h-1zM789 717h1v1h-1zM790 716h1v1h-1zM791 714h1v2h-1zM792 713h1v1h-1zM793 713h1v1h-1zM794 714h1v2h-1zM795 715h1v2h-1zM796 714h1v1h-1zM797 715h1v1h-1zM798 714h1v1h-1zM799 713h1v1h-1zM800 713h1v2h-1zM801 711h1v2h-1zM802 710h1v1h-1zM803 711h1v1h-1zM804 712h1v1h-1zM805 711h1v1h-1zM806 711h1v1h-1zM807 711h1v1h-1zM808 711h1v1h-1zM809 710h1v1h-1zM810 709h1v2h-1zM811 708h1v1h-1zM812 707h1v1h-1zM813 707h1v1h-1zM814 708h1v1h-1zM815 708h1v1h-1zM816 707h1v2h-1zM817 705h1v2h-1zM818 705h1v1h-1zM819 704h1v2h-1zM820 703h1v2h-1zM821 704h1v2h-1zM822 703h1v1h-1zM823 703h1v1h-1zM824 704h1v1h-1zM825 703h1v1h-1zM826 701h1v3h-1zM827 699h1v2h-1zM828 701h1v2h-1zM829 702h1v2h-1zM830 700h1v2h-1zM831 702h1v1h-1zM832 702h1v1h-1zM833 702h1v2h-1zM834 703h1v2h-1zM835 702h1v1h-1zM836 703h1v1h-1zM837 703h1v1h-1zM838 704h1v1h-1zM839 704h1v1h-1zM840 703h1v1h-1zM841 702h1v1h-1zM842 703h1v2h-1zM843 703h1v3h-1zM844 700h1v3h-1zM845 700h1v1h-1zM846 699h1v1h-1zM847 699h1v1h-1zM848 700h1v1h-1zM849 699h1v1h-1zM850 697h1v2h-1zM851 695h1v2h-1zM852 697h1v2h-1zM853 699h1v2h-1zM854 698h1v1h-1zM855 699h1v1h-1zM856 699h1v2h-1zM857 701h1v2h-1zM858 703h1v2h-1zM859 705h1v2h-1zM860 706h1v2h-1zM861 708h1v1h-1zM862 706h1v2h-1zM863 704h1v2h-1zM864 703h1v2h-1zM865 705h1v1h-1zM866 704h1v1h-1zM867 702h1v2h-1zM868 701h1v1h-1zM869 702h1v1h-1zM870 702h1v1h-1zM871 702h1v1h-1zM872 703h1v1h-1zM873 702h1v1h-1zM874 701h1v1h-1zM875 701h1v1h-1zM876 699h1v2h-1zM877 698h1v1h-1zM878 698h1v1h-1zM879 697h1v2h-1zM880 695h1v2h-1zM881 695h1v1h-1zM882 694h1v1h-1zM883 693h1v1h-1zM884 691h1v2h-1zM885 690h1v1h-1zM886 690h1v1h-1zM887 691h1v2h-1zM888 692h1v2h-1zM889 691h1v1h-1zM890 691h1v1h-1zM891 692h1v1h-1zM892 693h1v1h-1zM893 693h1v1h-1zM894 694h1v1h-1zM895 695h1v1h-1zM896 695h1v1h-1zM897 694h1v2h-1zM898 695h1v2h-1zM899 693h1v2h-1zM900 694h1v1h-1zM901 694h1v1h-1zM902 694h1v1h-1zM903 694h1v1h-1zM904 695h1v1h-1zM905 694h1v1h-1zM906 693h1v1h-1zM907 692h1v1h-1zM908 691h1v2h-1zM909 693h1v1h-1zM910 691h1v2h-1zM911 690h1v1h-1zM912 691h1v1h-1zM913 691h1v1h-1zM914 691h1v1h-1zM915 691h1v1h-1zM916 690h1v3h-1zM917 693h1v2h-1zM918 694h1v1h-1zM919 695h1v1h-1zM920 696h1v1h-1zM921 697h1v1h-1zM922 698h1v1h-1zM923 698h1v2h-1zM924 697h1v1h-1zM925 697h1v1h-1zM926 696h1v1h-1zM927 696h1v2h-1zM928 694h1v2h-1zM929 692h1v2h-1zM930 693h1v1h-1zM931 694h1v1h-1zM932 693h1v1h-1zM933 693h1v2h-1zM934 691h1v2h-1zM935 692h1v1h-1zM936 693h1v1h-1zM937 694h1v1h-1zM938 693h1v1h-1zM939 693h1v1h-1zM940 694h1v1h-1zM941 695h1v1h-1zM942 693h1v2h-1zM943 692h1v2h-1zM944 694h1v2h-1zM945 696h1v1h-1zM946 695h1v1h-1zM947 694h1v1h-1zM948 693h1v1h-1zM949 693h1v1h-1zM950 693h1v2h-1zM951 695h1v1h-1zM952 696h1v2h-1zM953 698h1v1h-1zM954 698h1v1h-1zM955 699h1v1h-1zM956 698h1v1h-1zM957 699h1v1h-1zM958 699h1v1h-1zM959 699h1v1h-1zM960 698h1v1h-1zM961 699h1v1h-1zM962 699h1v1h-1zM963 699h1v2h-1zM964 697h1v2h-1zM965 696h1v1h-1zM966 696h1v1h-1zM967 696h1v1h-1zM968 695h1v2h-1zM969 697h1v2h-1zM970 699h1v1h-1zM971 697h1v2h-1zM972 696h1v2h-1zM973 698h1v1h-1zM974 698h1v1h-1zM975 699h1v1h-1zM976 700h1v1h-1zM977 700h1v1h-1zM978 699h1v1h-1zM979 698h1v2h-1zM980 699h1v2h-1zM981 697h1v2h-1zM982 699h1v2h-1zM983 700h1v1h-1zM984 699h1v3h-1zM985 697h1v2h-1zM986 698h1v1h-1zM987 698h1v1h-1zM988 698h1v1h-1zM989 699h1v1h-1zM990 700h1v2h-1zM991 702h1v1h-1zM992 702h1v2h-1zM993 704h1v2h-1zM994 706h1v2h-1zM995 705h1v2h-1zM996 707h1v2h-1zM997 708h1v1h-1zM998 708h1v1h-1zM999 707h1v2h-1zM1000 705h1v2h-1zM1001 703h1v2h-1zM1002 705h1v1h-1zM1003 705h1v1h-1zM1004 704h1v3h-1zM1005 702h1v3h-1zM1006 703h1v4h-1zM1007 700h1v3h-1zM1008 700h1v1h-1zM1009 701h1v1h-1zM1010 702h1v1h-1zM1011 702h1v2h-1zM1012 700h1v2h-1zM1013 699h1v3h-1zM1014 702h1v2h-1zM1015 703h1v2h-1zM1016 705h1v2h-1zM1017 707h1v2h-1zM1018 707h1v3h-1zM1019 705h1v3h-1zM1020 708h1v2h-1zM1021 706h1v2h-1zM1022 706h1v1h-1zM1023 706h1v1h-1zM1024 706h1v3h-1zM1025 709h1v2h-1zM1026 708h1v1h-1zM1027 708h1v1h-1zM1028 708h1v1h-1zM1029 709h1v1h-1zM1030 709h1v1h-1zM1031 708h1v1h-1zM1032 708h1v1h-1zM1033 708h1v2h-1zM1034 710h1v1h-1zM1035 709h1v1h-1zM1036 709h1v2h-1zM1037 711h1v2h-1zM1038 712h1v3h-1zM1039 709h1v3h-1zM1040 711h1v2h-1zM1041 711h1v2h-1zM1042 713h1v2h-1zM1043 714h1v2h-1zM1044 712h1v3h-1zM1045 715h1v3h-1zM1046 718h1v2h-1zM1047 719h1v1h-1zM1048 717h1v2h-1zM1049 715h1v2h-1zM1050 715h1v1h-1zM1051 715h1v1h-1zM1052 715h1v1h-1zM1053 716h1v1h-1zM1054 716h1v1h-1zM1055 715h1v1h-1zM1056 715h1v1h-1zM1057 716h1v1h-1zM1058 716h1v2h-1zM1059 715h1v2h-1zM1060 717h1v1h-1zM1061 716h1v1h-1zM1062 715h1v2h-1zM1063 717h1v1h-1zM1064 716h1v2h-1zM1065 718h1v1h-1zM1066 718h1v1h-1zM1067 717h1v2h-1zM1068 719h1v1h-1zM1069 720h1v1h-1zM1070 720h1v1h-1zM1071 721h1v1h-1zM1072 722h1v1h-1zM1073 721h1v2h-1zM1074 721h1v3h-1zM1075 719h1v2h-1zM1076 720h1v1h-1zM1077 721h1v1h-1zM1078 722h1v2h-1zM1079 724h1v2h-1zM1080 726h1v1h-1zM1081 726h1v1h-1zM1082 726h1v1h-1zM1083 725h1v3h-1zM1084 723h1v2h-1zM1085 723h1v1h-1zM1086 723h1v1h-1z"/>
<text transform="translate(720.60,793.10) scale(0.94,1)" font-size="24.5" text-anchor="middle">2505</text>
<text transform="translate(814.60,793.10) scale(0.94,1)" font-size="24.5" text-anchor="middle">2510</text>
<text transform="translate(907.60,793.10) scale(0.94,1)" font-size="24.5" text-anchor="middle">2515</text>
<text transform="translate(1001.60,793.10) scale(0.94,1)" font-size="24.5" text-anchor="middle">2520</text>
<text transform="translate(678.00,713.90) scale(0.94,1)" font-size="24.5" text-anchor="end">40</text>
<text transform="translate(678.00,733.90) scale(0.94,1)" font-size="24.5" text-anchor="end">30</text>
<text transform="translate(678.00,752.90) scale(0.94,1)" font-size="24.5" text-anchor="end">20</text>
<text transform="translate(884.00,669.70) scale(0.905,1)" font-size="27.2" text-anchor="middle">Bin 8</text>
<text transform="translate(778.00,830.80) scale(0.887,1)" font-size="27.2" text-anchor="start">Wavenumber [cm<tspan x="213.75" dy="-12.6" font-size="16.5">-</tspan><tspan x="221.53" dy="-0.3" font-size="16.5">1</tspan><tspan x="232.47" dy="12.9">]</tspan></text>
<text transform="translate(638.00,725.00) rotate(-90) scale(0.887,1)" font-size="27.2" text-anchor="middle">ADU</text>
</svg></body></html>
